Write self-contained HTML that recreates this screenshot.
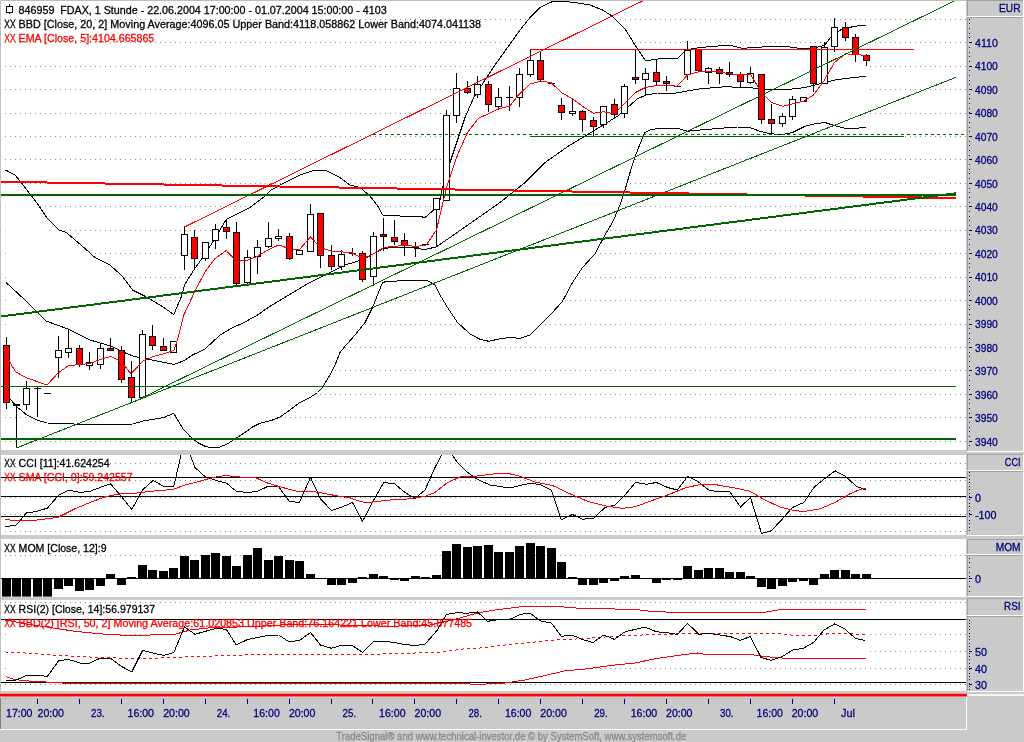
<!DOCTYPE html>
<html lang="de"><head><meta charset="utf-8"><title>846959 FDAX, 1 Stunde</title>
<style>
html,body{margin:0;padding:0;background:#cacaca;}
body{width:1024px;height:742px;overflow:hidden;}
svg{display:block;font-family:"Liberation Sans", sans-serif;}
text{white-space:pre;}
</style></head><body>
<svg width="1024" height="742" viewBox="0 0 1024 742">
<rect x="0.0" y="0.0" width="1024.0" height="742.0" fill="#cacaca" />
<rect x="1.0" y="1.0" width="965.0" height="449.0" fill="#fff" />
<rect x="1.0" y="455.0" width="965.0" height="80.0" fill="#fff" />
<rect x="1.0" y="539.0" width="965.0" height="58.0" fill="#fff" />
<rect x="1.0" y="600.0" width="965.0" height="91.0" fill="#fff" />
<line x1="5" y1="441.5" x2="966" y2="441.5" stroke="#8c8c8c" stroke-width="1" stroke-dasharray="1 4"/>
<line x1="5" y1="417.5" x2="966" y2="417.5" stroke="#8c8c8c" stroke-width="1" stroke-dasharray="1 4"/>
<line x1="5" y1="394.5" x2="966" y2="394.5" stroke="#8c8c8c" stroke-width="1" stroke-dasharray="1 4"/>
<line x1="5" y1="370.5" x2="966" y2="370.5" stroke="#8c8c8c" stroke-width="1" stroke-dasharray="1 4"/>
<line x1="5" y1="347.5" x2="966" y2="347.5" stroke="#8c8c8c" stroke-width="1" stroke-dasharray="1 4"/>
<line x1="5" y1="324.5" x2="966" y2="324.5" stroke="#8c8c8c" stroke-width="1" stroke-dasharray="1 4"/>
<line x1="5" y1="300.5" x2="966" y2="300.5" stroke="#8c8c8c" stroke-width="1" stroke-dasharray="1 4"/>
<line x1="5" y1="277.5" x2="966" y2="277.5" stroke="#8c8c8c" stroke-width="1" stroke-dasharray="1 4"/>
<line x1="5" y1="253.5" x2="966" y2="253.5" stroke="#8c8c8c" stroke-width="1" stroke-dasharray="1 4"/>
<line x1="5" y1="230.5" x2="966" y2="230.5" stroke="#8c8c8c" stroke-width="1" stroke-dasharray="1 4"/>
<line x1="5" y1="206.5" x2="966" y2="206.5" stroke="#8c8c8c" stroke-width="1" stroke-dasharray="1 4"/>
<line x1="5" y1="183.5" x2="966" y2="183.5" stroke="#8c8c8c" stroke-width="1" stroke-dasharray="1 4"/>
<line x1="5" y1="159.5" x2="966" y2="159.5" stroke="#8c8c8c" stroke-width="1" stroke-dasharray="1 4"/>
<line x1="5" y1="136.5" x2="966" y2="136.5" stroke="#8c8c8c" stroke-width="1" stroke-dasharray="1 4"/>
<line x1="5" y1="113.5" x2="966" y2="113.5" stroke="#8c8c8c" stroke-width="1" stroke-dasharray="1 4"/>
<line x1="5" y1="89.5" x2="966" y2="89.5" stroke="#8c8c8c" stroke-width="1" stroke-dasharray="1 4"/>
<line x1="5" y1="66.5" x2="966" y2="66.5" stroke="#8c8c8c" stroke-width="1" stroke-dasharray="1 4"/>
<line x1="5" y1="42.5" x2="966" y2="42.5" stroke="#8c8c8c" stroke-width="1" stroke-dasharray="1 4"/>
<line x1="5" y1="19.5" x2="966" y2="19.5" stroke="#8c8c8c" stroke-width="1" stroke-dasharray="1 4"/>
<polygon points="5.5,170.0 15.0,175.0 20.0,181.0 25.0,187.5 37.5,203.8 47.5,218.8 58.8,230.0 66.3,232.5 82.5,246.3 95.0,257.5 110.0,265.0 122.5,276.3 132.5,290.0 145.0,296.3 160.0,305.0 173.8,314.5 181.0,297.5 185.0,284.0 193.8,270.0 200.0,261.3 212.5,242.5 220.0,230.0 226.3,219.5 240.0,212.5 250.0,207.5 257.0,202.0 265.0,196.3 271.0,190.0 285.0,182.5 300.0,175.0 315.0,170.0 325.0,170.0 340.0,177.5 350.0,185.0 360.0,187.5 370.0,196.0 378.8,207.5 382.5,215.0 400.0,216.0 417.5,216.0 425.0,217.5 433.8,210.0 440.0,200.0 442.5,188.0 445.0,178.0 450.0,162.5 457.5,140.0 465.0,117.5 473.8,97.5 485.0,80.0 495.0,65.0 507.5,47.5 520.0,30.0 530.0,17.5 540.0,7.5 552.5,1.5 562.5,1.3 575.0,2.5 590.0,5.0 602.5,10.0 612.5,16.3 625.0,28.8 635.0,45.0 645.0,60.0 651.0,60.0 660.0,58.8 677.5,58.3 683.8,52.5 687.5,49.5 700.0,47.5 720.0,45.8 732.5,45.8 742.5,48.3 762.5,47.0 785.0,46.3 802.5,48.8 812.5,48.8 825.0,45.0 832.5,35.0 842.5,28.8 855.0,26.3 866.0,25.0 866.0,127.0 857.5,128.3 845.0,128.3 835.0,125.8 825.0,122.5 815.0,123.8 805.0,126.3 792.5,132.5 782.5,134.5 770.0,133.8 760.0,131.3 750.0,127.5 737.5,127.0 720.0,128.3 700.0,130.0 687.5,131.3 677.5,128.3 660.0,128.3 651.0,129.5 645.0,132.5 640.0,144.0 635.0,157.0 630.0,172.5 625.0,190.0 620.0,205.0 612.5,222.5 605.0,235.0 595.0,253.8 582.5,267.5 572.5,282.5 562.5,301.3 552.5,312.5 540.0,325.0 530.0,335.0 520.0,338.3 510.0,337.5 500.0,338.8 488.8,341.3 480.0,339.3 470.0,333.8 457.5,322.5 447.5,307.5 440.0,295.0 435.0,285.0 427.5,280.8 420.0,280.3 387.5,281.3 382.5,282.5 377.5,295.0 372.5,307.5 365.0,322.5 355.0,335.0 345.0,346.3 340.0,352.5 335.0,365.0 330.0,375.0 322.5,387.5 317.5,392.5 310.0,397.5 300.0,402.5 290.0,410.0 280.0,417.0 272.5,420.0 260.0,423.3 252.5,427.0 245.0,432.5 235.0,438.8 227.5,443.8 220.0,447.0 212.5,448.0 205.0,446.3 197.5,442.5 190.0,436.3 183.8,430.0 178.3,421.0 173.8,413.3 164.0,417.4 143.4,421.0 133.0,424.0 110.7,424.6 88.0,425.0 67.6,423.6 47.0,423.0 37.0,420.0 26.6,414.8 16.4,406.5 9.6,398.4 6.0,395.0" fill="#fff" stroke="none"/>
<polyline points="5.5,170.0 15.0,175.0 20.0,181.0 25.0,187.5 37.5,203.8 47.5,218.8 58.8,230.0 66.3,232.5 82.5,246.3 95.0,257.5 110.0,265.0 122.5,276.3 132.5,290.0 145.0,296.3 160.0,305.0 173.8,314.5 181.0,297.5 185.0,284.0 193.8,270.0 200.0,261.3 212.5,242.5 220.0,230.0 226.3,219.5 240.0,212.5 250.0,207.5 257.0,202.0 265.0,196.3 271.0,190.0 285.0,182.5 300.0,175.0 315.0,170.0 325.0,170.0 340.0,177.5 350.0,185.0 360.0,187.5 370.0,196.0 378.8,207.5 382.5,215.0 400.0,216.0 417.5,216.0 425.0,217.5 433.8,210.0 440.0,200.0 442.5,188.0 445.0,178.0 450.0,162.5 457.5,140.0 465.0,117.5 473.8,97.5 485.0,80.0 495.0,65.0 507.5,47.5 520.0,30.0 530.0,17.5 540.0,7.5 552.5,1.5 562.5,1.3 575.0,2.5 590.0,5.0 602.5,10.0 612.5,16.3 625.0,28.8 635.0,45.0 645.0,60.0 651.0,60.0 660.0,58.8 677.5,58.3 683.8,52.5 687.5,49.5 700.0,47.5 720.0,45.8 732.5,45.8 742.5,48.3 762.5,47.0 785.0,46.3 802.5,48.8 812.5,48.8 825.0,45.0 832.5,35.0 842.5,28.8 855.0,26.3 866.0,25.0" fill="none" stroke="#000" stroke-width="1" stroke-linejoin="round" shape-rendering="crispEdges" />
<polyline points="6.0,282.5 25.0,300.0 46.0,321.0 67.5,328.8 90.0,340.0 110.7,346.0 123.0,352.0 133.0,356.0 143.4,358.4 160.0,361.5 174.0,364.5 184.4,360.5 192.5,355.0 205.0,349.0 220.0,335.0 232.0,328.0 245.0,322.0 257.5,315.0 270.0,306.3 282.5,298.8 295.0,291.3 307.5,283.8 320.0,277.5 330.0,272.5 345.0,265.0 357.5,261.3 367.5,257.5 382.5,248.8 395.0,247.0 407.5,247.0 417.0,248.5 425.0,249.5 436.0,247.0 450.0,237.5 475.0,220.0 500.0,202.5 525.0,182.5 545.0,162.5 570.0,145.0 585.0,136.3 595.0,130.0 605.0,123.8 617.5,116.3 627.5,107.5 637.5,98.8 646.0,95.0 657.5,93.0 676.0,93.0 700.0,88.8 725.0,86.8 750.0,87.5 762.5,89.5 787.5,89.5 805.0,87.5 820.0,83.8 835.0,80.0 850.0,78.0 866.0,76.3" fill="none" stroke="#000" stroke-width="1" stroke-linejoin="round" shape-rendering="crispEdges" />
<polyline points="6.0,395.0 9.6,398.4 16.4,406.5 26.6,414.8 37.0,420.0 47.0,423.0 67.6,423.6 88.0,425.0 110.7,424.6 133.0,424.0 143.4,421.0 164.0,417.4 173.8,413.3 178.3,421.0 183.8,430.0 190.0,436.3 197.5,442.5 205.0,446.3 212.5,448.0 220.0,447.0 227.5,443.8 235.0,438.8 245.0,432.5 252.5,427.0 260.0,423.3 272.5,420.0 280.0,417.0 290.0,410.0 300.0,402.5 310.0,397.5 317.5,392.5 322.5,387.5 330.0,375.0 335.0,365.0 340.0,352.5 345.0,346.3 355.0,335.0 365.0,322.5 372.5,307.5 377.5,295.0 382.5,282.5 387.5,281.3 420.0,280.3 427.5,280.8 435.0,285.0 440.0,295.0 447.5,307.5 457.5,322.5 470.0,333.8 480.0,339.3 488.8,341.3 500.0,338.8 510.0,337.5 520.0,338.3 530.0,335.0 540.0,325.0 552.5,312.5 562.5,301.3 572.5,282.5 582.5,267.5 595.0,253.8 605.0,235.0 612.5,222.5 620.0,205.0 625.0,190.0 630.0,172.5 635.0,157.0 640.0,144.0 645.0,132.5 651.0,129.5 660.0,128.3 677.5,128.3 687.5,131.3 700.0,130.0 720.0,128.3 737.5,127.0 750.0,127.5 760.0,131.3 770.0,133.8 782.5,134.5 792.5,132.5 805.0,126.3 815.0,123.8 825.0,122.5 835.0,125.8 845.0,128.3 857.5,128.3 866.0,127.0" fill="none" stroke="#000" stroke-width="1" stroke-linejoin="round" shape-rendering="crispEdges" />
<g shape-rendering="crispEdges">
<line x1="6.5" y1="337.0" x2="6.5" y2="409.0" stroke="#000" stroke-width="1" />
<rect x="3.5" y="345.5" width="6" height="57.0" fill="#ff0000" stroke="#000" stroke-width="1"/>
<line x1="16.5" y1="404.0" x2="16.5" y2="448.0" stroke="#000" stroke-width="1" />
<line x1="13.0" y1="404.5" x2="20.0" y2="404.5" stroke="#000" stroke-width="2" />
<line x1="26.5" y1="381.0" x2="26.5" y2="410.0" stroke="#000" stroke-width="1" />
<rect x="23.5" y="388.5" width="6" height="16.0" fill="#fff" stroke="#000" stroke-width="1"/>
<line x1="37.5" y1="387.0" x2="37.5" y2="417.4" stroke="#000" stroke-width="1" />
<line x1="34.0" y1="388.5" x2="41.0" y2="388.5" stroke="#000" stroke-width="1" />
<line x1="44.0" y1="393.5" x2="51.0" y2="393.5" stroke="#000" stroke-width="1" />
<line x1="58.5" y1="336.0" x2="58.5" y2="378.0" stroke="#000" stroke-width="1" />
<rect x="55.5" y="350.5" width="6" height="7.0" fill="#fff" stroke="#000" stroke-width="1"/>
<line x1="68.5" y1="330.0" x2="68.5" y2="358.0" stroke="#000" stroke-width="1" />
<rect x="65.5" y="348.5" width="6" height="4.0" fill="#fff" stroke="#000" stroke-width="1"/>
<line x1="79.5" y1="345.0" x2="79.5" y2="367.0" stroke="#000" stroke-width="1" />
<rect x="76.5" y="348.5" width="6" height="16.0" fill="#ff0000" stroke="#000" stroke-width="1"/>
<line x1="89.5" y1="352.0" x2="89.5" y2="370.0" stroke="#000" stroke-width="1" />
<rect x="86.5" y="362.5" width="6" height="3.0" fill="#fff" stroke="#000" stroke-width="1"/>
<line x1="100.5" y1="344.0" x2="100.5" y2="369.0" stroke="#000" stroke-width="1" />
<rect x="97.5" y="348.5" width="6" height="16.0" fill="#fff" stroke="#000" stroke-width="1"/>
<line x1="110.5" y1="338.0" x2="110.5" y2="350.0" stroke="#000" stroke-width="1" />
<rect x="107.5" y="348.5" width="6" height="2.0" fill="#ff0000" stroke="#000" stroke-width="1"/>
<line x1="121.5" y1="346.0" x2="121.5" y2="383.0" stroke="#000" stroke-width="1" />
<rect x="118.5" y="350.5" width="6" height="29.0" fill="#ff0000" stroke="#000" stroke-width="1"/>
<line x1="131.5" y1="361.0" x2="131.5" y2="402.0" stroke="#000" stroke-width="1" />
<rect x="128.5" y="377.5" width="6" height="20.0" fill="#ff0000" stroke="#000" stroke-width="1"/>
<line x1="142.5" y1="330.0" x2="142.5" y2="397.0" stroke="#000" stroke-width="1" />
<rect x="139.5" y="334.5" width="6" height="63.0" fill="#fff" stroke="#000" stroke-width="1"/>
<line x1="152.5" y1="325.0" x2="152.5" y2="350.0" stroke="#000" stroke-width="1" />
<rect x="149.5" y="336.5" width="6" height="9.0" fill="#ff0000" stroke="#000" stroke-width="1"/>
<line x1="163.5" y1="338.0" x2="163.5" y2="351.0" stroke="#000" stroke-width="1" />
<rect x="160.5" y="346.5" width="6" height="4.0" fill="#ff0000" stroke="#000" stroke-width="1"/>
<line x1="173.5" y1="342.0" x2="173.5" y2="352.0" stroke="#000" stroke-width="1" />
<rect x="170.5" y="341.5" width="6" height="11.0" fill="#fff" stroke="#000" stroke-width="1"/>
<line x1="184.5" y1="227.0" x2="184.5" y2="270.0" stroke="#000" stroke-width="1" />
<rect x="181.5" y="234.5" width="6" height="21.0" fill="#fff" stroke="#000" stroke-width="1"/>
<line x1="194.5" y1="230.0" x2="194.5" y2="268.0" stroke="#000" stroke-width="1" />
<rect x="191.5" y="237.5" width="6" height="21.0" fill="#ff0000" stroke="#000" stroke-width="1"/>
<line x1="205.5" y1="242.0" x2="205.5" y2="261.0" stroke="#000" stroke-width="1" />
<rect x="202.5" y="242.5" width="6" height="16.0" fill="#fff" stroke="#000" stroke-width="1"/>
<line x1="215.5" y1="224.0" x2="215.5" y2="249.0" stroke="#000" stroke-width="1" />
<rect x="212.5" y="229.5" width="6" height="11.0" fill="#fff" stroke="#000" stroke-width="1"/>
<line x1="226.5" y1="220.0" x2="226.5" y2="239.0" stroke="#000" stroke-width="1" />
<rect x="223.5" y="227.5" width="6" height="4.0" fill="#ff0000" stroke="#000" stroke-width="1"/>
<line x1="236.5" y1="222.0" x2="236.5" y2="286.0" stroke="#000" stroke-width="1" />
<rect x="233.5" y="232.5" width="6" height="51.0" fill="#ff0000" stroke="#000" stroke-width="1"/>
<line x1="247.5" y1="250.0" x2="247.5" y2="284.0" stroke="#000" stroke-width="1" />
<rect x="244.5" y="257.5" width="6" height="25.0" fill="#fff" stroke="#000" stroke-width="1"/>
<line x1="257.5" y1="240.0" x2="257.5" y2="274.0" stroke="#000" stroke-width="1" />
<rect x="254.5" y="247.5" width="6" height="9.0" fill="#fff" stroke="#000" stroke-width="1"/>
<line x1="268.5" y1="222.0" x2="268.5" y2="248.0" stroke="#000" stroke-width="1" />
<rect x="265.5" y="238.5" width="6" height="8.0" fill="#fff" stroke="#000" stroke-width="1"/>
<line x1="278.5" y1="229.0" x2="278.5" y2="241.0" stroke="#000" stroke-width="1" />
<rect x="275.5" y="236.5" width="6" height="2.0" fill="#fff" stroke="#000" stroke-width="1"/>
<line x1="289.5" y1="233.0" x2="289.5" y2="260.0" stroke="#000" stroke-width="1" />
<rect x="286.5" y="236.5" width="6" height="22.0" fill="#ff0000" stroke="#000" stroke-width="1"/>
<line x1="299.5" y1="250.0" x2="299.5" y2="254.0" stroke="#000" stroke-width="1" />
<rect x="296.5" y="250.5" width="6" height="4.0" fill="#fff" stroke="#000" stroke-width="1"/>
<line x1="310.5" y1="204.0" x2="310.5" y2="251.0" stroke="#000" stroke-width="1" />
<rect x="307.5" y="214.5" width="6" height="37.0" fill="#fff" stroke="#000" stroke-width="1"/>
<line x1="320.5" y1="213.0" x2="320.5" y2="268.0" stroke="#000" stroke-width="1" />
<rect x="317.5" y="213.5" width="6" height="42.0" fill="#ff0000" stroke="#000" stroke-width="1"/>
<line x1="331.5" y1="245.0" x2="331.5" y2="270.0" stroke="#000" stroke-width="1" />
<rect x="328.5" y="255.5" width="6" height="11.0" fill="#ff0000" stroke="#000" stroke-width="1"/>
<line x1="341.5" y1="250.0" x2="341.5" y2="270.0" stroke="#000" stroke-width="1" />
<rect x="338.5" y="254.5" width="6" height="12.0" fill="#fff" stroke="#000" stroke-width="1"/>
<line x1="352.5" y1="248.0" x2="352.5" y2="255.5" stroke="#000" stroke-width="1" />
<line x1="349.0" y1="253.5" x2="356.0" y2="253.5" stroke="#000" stroke-width="1" />
<line x1="362.5" y1="251.0" x2="362.5" y2="282.0" stroke="#000" stroke-width="1" />
<rect x="359.5" y="253.5" width="6" height="26.0" fill="#ff0000" stroke="#000" stroke-width="1"/>
<line x1="373.5" y1="232.0" x2="373.5" y2="286.0" stroke="#000" stroke-width="1" />
<rect x="370.5" y="236.5" width="6" height="40.0" fill="#fff" stroke="#000" stroke-width="1"/>
<line x1="383.5" y1="218.0" x2="383.5" y2="251.0" stroke="#000" stroke-width="1" />
<rect x="380.5" y="234.5" width="6" height="2.0" fill="#ff0000" stroke="#000" stroke-width="1"/>
<line x1="394.5" y1="220.0" x2="394.5" y2="245.0" stroke="#000" stroke-width="1" />
<rect x="391.5" y="237.5" width="6" height="4.0" fill="#ff0000" stroke="#000" stroke-width="1"/>
<line x1="404.5" y1="233.0" x2="404.5" y2="256.0" stroke="#000" stroke-width="1" />
<rect x="401.5" y="240.5" width="6" height="5.0" fill="#ff0000" stroke="#000" stroke-width="1"/>
<line x1="415.5" y1="241.5" x2="415.5" y2="257.2" stroke="#000" stroke-width="1" />
<line x1="412.0" y1="247.5" x2="419.0" y2="247.5" stroke="#000" stroke-width="1" />
<line x1="422.0" y1="244.5" x2="429.0" y2="244.5" stroke="#000" stroke-width="1" />
<line x1="436.5" y1="198.0" x2="436.5" y2="246.0" stroke="#000" stroke-width="1" />
<rect x="433.5" y="198.5" width="6" height="11.0" fill="#fff" stroke="#000" stroke-width="1"/>
<line x1="446.5" y1="110.0" x2="446.5" y2="201.0" stroke="#000" stroke-width="1" />
<rect x="443.5" y="115.5" width="6" height="85.0" fill="#fff" stroke="#000" stroke-width="1"/>
<line x1="456.5" y1="73.0" x2="456.5" y2="123.0" stroke="#000" stroke-width="1" />
<rect x="453.5" y="88.5" width="6" height="27.0" fill="#fff" stroke="#000" stroke-width="1"/>
<line x1="467.5" y1="81.0" x2="467.5" y2="94.0" stroke="#000" stroke-width="1" />
<rect x="464.5" y="88.5" width="6" height="4.0" fill="#ff0000" stroke="#000" stroke-width="1"/>
<line x1="477.5" y1="76.0" x2="477.5" y2="98.0" stroke="#000" stroke-width="1" />
<rect x="474.5" y="84.5" width="6" height="10.0" fill="#fff" stroke="#000" stroke-width="1"/>
<line x1="488.5" y1="81.0" x2="488.5" y2="112.0" stroke="#000" stroke-width="1" />
<rect x="485.5" y="84.5" width="6" height="20.0" fill="#ff0000" stroke="#000" stroke-width="1"/>
<line x1="498.5" y1="88.0" x2="498.5" y2="110.0" stroke="#000" stroke-width="1" />
<rect x="495.5" y="97.5" width="6" height="9.0" fill="#fff" stroke="#000" stroke-width="1"/>
<line x1="509.5" y1="86.3" x2="509.5" y2="110.8" stroke="#000" stroke-width="1" />
<line x1="506.0" y1="97.5" x2="513.0" y2="97.5" stroke="#000" stroke-width="1" />
<line x1="519.5" y1="68.0" x2="519.5" y2="107.0" stroke="#000" stroke-width="1" />
<rect x="516.5" y="74.5" width="6" height="23.0" fill="#fff" stroke="#000" stroke-width="1"/>
<line x1="530.5" y1="49.0" x2="530.5" y2="77.0" stroke="#000" stroke-width="1" />
<rect x="527.5" y="60.5" width="6" height="14.0" fill="#fff" stroke="#000" stroke-width="1"/>
<line x1="540.5" y1="51.0" x2="540.5" y2="81.0" stroke="#000" stroke-width="1" />
<rect x="537.5" y="60.5" width="6" height="19.0" fill="#ff0000" stroke="#000" stroke-width="1"/>
<line x1="548.0" y1="83.5" x2="555.0" y2="83.5" stroke="#000" stroke-width="1" />
<line x1="561.5" y1="98.0" x2="561.5" y2="120.0" stroke="#000" stroke-width="1" />
<rect x="558.5" y="105.5" width="6" height="7.0" fill="#ff0000" stroke="#000" stroke-width="1"/>
<line x1="572.5" y1="98.0" x2="572.5" y2="116.0" stroke="#000" stroke-width="1" />
<rect x="569.5" y="111.5" width="6" height="2.0" fill="#fff" stroke="#000" stroke-width="1"/>
<line x1="582.5" y1="110.0" x2="582.5" y2="132.0" stroke="#000" stroke-width="1" />
<rect x="579.5" y="111.5" width="6" height="8.0" fill="#ff0000" stroke="#000" stroke-width="1"/>
<line x1="593.5" y1="117.0" x2="593.5" y2="136.0" stroke="#000" stroke-width="1" />
<rect x="590.5" y="120.5" width="6" height="6.0" fill="#ff0000" stroke="#000" stroke-width="1"/>
<line x1="603.5" y1="106.0" x2="603.5" y2="128.0" stroke="#000" stroke-width="1" />
<rect x="600.5" y="106.5" width="6" height="18.0" fill="#fff" stroke="#000" stroke-width="1"/>
<line x1="614.5" y1="99.0" x2="614.5" y2="118.0" stroke="#000" stroke-width="1" />
<rect x="611.5" y="104.5" width="6" height="10.0" fill="#ff0000" stroke="#000" stroke-width="1"/>
<line x1="624.5" y1="84.0" x2="624.5" y2="118.0" stroke="#000" stroke-width="1" />
<rect x="621.5" y="86.5" width="6" height="27.0" fill="#fff" stroke="#000" stroke-width="1"/>
<line x1="635.5" y1="49.0" x2="635.5" y2="84.0" stroke="#000" stroke-width="1" />
<rect x="632.5" y="77.5" width="6" height="2.0" fill="#ff0000" stroke="#000" stroke-width="1"/>
<line x1="645.5" y1="68.0" x2="645.5" y2="95.0" stroke="#000" stroke-width="1" />
<rect x="642.5" y="73.5" width="6" height="6.0" fill="#fff" stroke="#000" stroke-width="1"/>
<line x1="656.5" y1="59.0" x2="656.5" y2="86.0" stroke="#000" stroke-width="1" />
<rect x="653.5" y="72.5" width="6" height="9.0" fill="#ff0000" stroke="#000" stroke-width="1"/>
<line x1="666.5" y1="76.0" x2="666.5" y2="91.0" stroke="#000" stroke-width="1" />
<rect x="663.5" y="81.5" width="6" height="2.0" fill="#ff0000" stroke="#000" stroke-width="1"/>
<line x1="674.0" y1="86.5" x2="681.0" y2="86.5" stroke="#000" stroke-width="1" />
<line x1="687.5" y1="41.0" x2="687.5" y2="80.0" stroke="#000" stroke-width="1" />
<rect x="684.5" y="50.5" width="6" height="24.0" fill="#fff" stroke="#000" stroke-width="1"/>
<line x1="698.5" y1="49.0" x2="698.5" y2="72.0" stroke="#000" stroke-width="1" />
<rect x="695.5" y="49.5" width="6" height="21.0" fill="#ff0000" stroke="#000" stroke-width="1"/>
<line x1="708.5" y1="67.0" x2="708.5" y2="84.0" stroke="#000" stroke-width="1" />
<rect x="705.5" y="68.5" width="6" height="4.0" fill="#fff" stroke="#000" stroke-width="1"/>
<line x1="719.5" y1="67.0" x2="719.5" y2="84.0" stroke="#000" stroke-width="1" />
<rect x="716.5" y="69.5" width="6" height="4.0" fill="#ff0000" stroke="#000" stroke-width="1"/>
<line x1="729.5" y1="62.0" x2="729.5" y2="77.0" stroke="#000" stroke-width="1" />
<rect x="726.5" y="72.5" width="6" height="2.0" fill="#ff0000" stroke="#000" stroke-width="1"/>
<line x1="740.5" y1="72.0" x2="740.5" y2="88.0" stroke="#000" stroke-width="1" />
<rect x="737.5" y="74.5" width="6" height="7.0" fill="#ff0000" stroke="#000" stroke-width="1"/>
<line x1="750.5" y1="67.0" x2="750.5" y2="84.0" stroke="#000" stroke-width="1" />
<rect x="747.5" y="73.5" width="6" height="9.0" fill="#fff" stroke="#000" stroke-width="1"/>
<line x1="761.5" y1="74.0" x2="761.5" y2="124.0" stroke="#000" stroke-width="1" />
<rect x="758.5" y="74.5" width="6" height="45.0" fill="#ff0000" stroke="#000" stroke-width="1"/>
<line x1="771.5" y1="104.0" x2="771.5" y2="134.0" stroke="#000" stroke-width="1" />
<rect x="768.5" y="119.5" width="6" height="4.0" fill="#ff0000" stroke="#000" stroke-width="1"/>
<line x1="782.5" y1="113.0" x2="782.5" y2="127.0" stroke="#000" stroke-width="1" />
<rect x="779.5" y="116.5" width="6" height="7.0" fill="#fff" stroke="#000" stroke-width="1"/>
<line x1="792.5" y1="96.0" x2="792.5" y2="120.0" stroke="#000" stroke-width="1" />
<rect x="789.5" y="99.5" width="6" height="17.0" fill="#fff" stroke="#000" stroke-width="1"/>
<line x1="803.5" y1="98.0" x2="803.5" y2="102.0" stroke="#000" stroke-width="1" />
<rect x="800.5" y="97.5" width="6" height="4.0" fill="#fff" stroke="#000" stroke-width="1"/>
<line x1="813.5" y1="46.0" x2="813.5" y2="92.0" stroke="#000" stroke-width="1" />
<rect x="810.5" y="46.5" width="6" height="37.0" fill="#ff0000" stroke="#000" stroke-width="1"/>
<line x1="824.5" y1="42.0" x2="824.5" y2="84.0" stroke="#000" stroke-width="1" />
<rect x="821.5" y="47.5" width="6" height="36.0" fill="#fff" stroke="#000" stroke-width="1"/>
<line x1="834.5" y1="18.0" x2="834.5" y2="52.0" stroke="#000" stroke-width="1" />
<rect x="831.5" y="27.5" width="6" height="19.0" fill="#fff" stroke="#000" stroke-width="1"/>
<line x1="845.5" y1="22.0" x2="845.5" y2="41.0" stroke="#000" stroke-width="1" />
<rect x="842.5" y="27.5" width="6" height="10.0" fill="#ff0000" stroke="#000" stroke-width="1"/>
<line x1="855.5" y1="34.0" x2="855.5" y2="62.0" stroke="#000" stroke-width="1" />
<rect x="852.5" y="37.5" width="6" height="17.0" fill="#ff0000" stroke="#000" stroke-width="1"/>
<line x1="866.5" y1="54.0" x2="866.5" y2="66.0" stroke="#000" stroke-width="1" />
<rect x="863.5" y="55.5" width="6" height="5.0" fill="#ff0000" stroke="#000" stroke-width="1"/>
</g>
<polyline points="6.5,352.0 9.6,361.5 15.4,371.7 26.6,377.9 47.0,385.0 58.4,372.7 68.6,365.6 80.0,364.5 90.0,363.5 100.4,359.4 110.7,356.4 121.0,361.5 131.0,373.8 143.4,360.5 153.7,356.4 164.0,353.7 174.0,350.2 178.3,337.0 183.8,315.0 195.0,291.0 205.0,272.0 215.0,258.5 226.3,250.5 236.3,261.3 247.5,260.3 257.5,256.3 268.8,249.5 278.8,245.0 289.5,248.8 299.5,249.5 310.5,237.0 320.5,247.5 331.5,251.3 341.5,251.8 352.5,253.0 362.5,258.8 373.5,253.8 383.5,247.5 394.5,246.3 404.5,245.5 416.0,246.3 426.0,245.3 436.5,230.0 446.5,187.5 457.5,155.0 467.5,132.5 478.5,118.3 488.5,113.8 498.5,108.8 509.5,106.3 519.5,93.8 530.5,83.8 540.5,81.3 551.0,82.5 561.5,92.5 572.5,98.8 582.5,106.3 593.5,113.3 603.5,111.8 614.5,113.8 624.5,103.8 635.5,92.5 645.5,87.5 656.5,85.5 666.5,85.0 677.0,86.3 687.5,75.0 698.5,71.8 708.5,71.3 719.5,72.0 729.5,73.8 740.5,75.0 750.5,74.5 761.5,92.5 771.5,102.5 782.5,106.3 792.5,103.8 803.5,101.3 813.5,95.0 824.5,80.0 834.5,62.5 845.5,53.8 855.5,54.5 866.5,55.5" fill="none" stroke="#ff0000" stroke-width="1" stroke-linejoin="round" shape-rendering="crispEdges" />
<g shape-rendering="crispEdges">
<line x1="0.0" y1="386.5" x2="956.0" y2="386.5" stroke="#006400" stroke-width="1" />
<line x1="0.0" y1="439.0" x2="956.0" y2="439.0" stroke="#006400" stroke-width="2" />
<line x1="373.0" y1="134.5" x2="965.0" y2="134.5" stroke="#006400" stroke-width="1" stroke-dasharray="3 3"/>
<line x1="530.0" y1="136.5" x2="904.0" y2="136.5" stroke="#006400" stroke-width="1" />
<line x1="530.0" y1="49.5" x2="913.5" y2="49.5" stroke="#ff0000" stroke-width="1" />
</g>
<line x1="16.4" y1="448.0" x2="956.0" y2="77.3" stroke="#006400" stroke-width="1" shape-rendering="crispEdges"/>
<line x1="142.6" y1="397.5" x2="956.0" y2="0.2" stroke="#006400" stroke-width="1" shape-rendering="crispEdges"/>
<line x1="184.5" y1="227.0" x2="644.5" y2="0.0" stroke="#ff0000" stroke-width="1" shape-rendering="crispEdges"/>
<g shape-rendering="crispEdges">
<rect x="0.0" y="181.0" width="47.0" height="2.0" fill="#ff0000" />
<rect x="47.0" y="182.0" width="58.0" height="2.0" fill="#ff0000" />
<rect x="105.0" y="183.0" width="59.0" height="2.0" fill="#ff0000" />
<rect x="164.0" y="184.0" width="58.0" height="2.0" fill="#ff0000" />
<rect x="222.0" y="185.0" width="58.0" height="2.0" fill="#ff0000" />
<rect x="280.0" y="186.0" width="59.0" height="2.0" fill="#ff0000" />
<rect x="339.0" y="187.0" width="58.0" height="2.0" fill="#ff0000" />
<rect x="397.0" y="188.0" width="58.0" height="2.0" fill="#ff0000" />
<rect x="455.0" y="189.0" width="59.0" height="2.0" fill="#ff0000" />
<rect x="514.0" y="190.0" width="58.0" height="2.0" fill="#ff0000" />
<rect x="572.0" y="191.0" width="58.0" height="2.0" fill="#ff0000" />
<rect x="630.0" y="192.0" width="59.0" height="2.0" fill="#ff0000" />
<rect x="689.0" y="193.0" width="58.0" height="2.0" fill="#ff0000" />
<rect x="747.0" y="194.0" width="58.0" height="2.0" fill="#ff0000" />
<rect x="805.0" y="195.0" width="58.0" height="2.0" fill="#ff0000" />
<rect x="863.0" y="196.0" width="59.0" height="2.0" fill="#ff0000" />
<rect x="922.0" y="197.0" width="34.0" height="2.0" fill="#ff0000" />
</g>
<g shape-rendering="crispEdges">
<line x1="0.0" y1="195.0" x2="956.0" y2="195.0" stroke="#006400" stroke-width="2" />
</g>
<g shape-rendering="crispEdges">
<rect x="0.0" y="316.0" width="1.0" height="2.0" fill="#006400" />
<rect x="1.0" y="315.0" width="7.0" height="2.0" fill="#006400" />
<rect x="8.0" y="314.0" width="8.0" height="2.0" fill="#006400" />
<rect x="16.0" y="313.0" width="8.0" height="2.0" fill="#006400" />
<rect x="24.0" y="312.0" width="8.0" height="2.0" fill="#006400" />
<rect x="32.0" y="311.0" width="7.0" height="2.0" fill="#006400" />
<rect x="39.0" y="310.0" width="8.0" height="2.0" fill="#006400" />
<rect x="47.0" y="309.0" width="8.0" height="2.0" fill="#006400" />
<rect x="55.0" y="308.0" width="8.0" height="2.0" fill="#006400" />
<rect x="63.0" y="307.0" width="7.0" height="2.0" fill="#006400" />
<rect x="70.0" y="306.0" width="8.0" height="2.0" fill="#006400" />
<rect x="78.0" y="305.0" width="8.0" height="2.0" fill="#006400" />
<rect x="86.0" y="304.0" width="8.0" height="2.0" fill="#006400" />
<rect x="94.0" y="303.0" width="7.0" height="2.0" fill="#006400" />
<rect x="101.0" y="302.0" width="8.0" height="2.0" fill="#006400" />
<rect x="109.0" y="301.0" width="8.0" height="2.0" fill="#006400" />
<rect x="117.0" y="300.0" width="8.0" height="2.0" fill="#006400" />
<rect x="125.0" y="299.0" width="7.0" height="2.0" fill="#006400" />
<rect x="132.0" y="298.0" width="8.0" height="2.0" fill="#006400" />
<rect x="140.0" y="297.0" width="8.0" height="2.0" fill="#006400" />
<rect x="148.0" y="296.0" width="8.0" height="2.0" fill="#006400" />
<rect x="156.0" y="295.0" width="7.0" height="2.0" fill="#006400" />
<rect x="163.0" y="294.0" width="8.0" height="2.0" fill="#006400" />
<rect x="171.0" y="293.0" width="8.0" height="2.0" fill="#006400" />
<rect x="179.0" y="292.0" width="8.0" height="2.0" fill="#006400" />
<rect x="187.0" y="291.0" width="7.0" height="2.0" fill="#006400" />
<rect x="194.0" y="290.0" width="8.0" height="2.0" fill="#006400" />
<rect x="202.0" y="289.0" width="8.0" height="2.0" fill="#006400" />
<rect x="210.0" y="288.0" width="8.0" height="2.0" fill="#006400" />
<rect x="218.0" y="287.0" width="7.0" height="2.0" fill="#006400" />
<rect x="225.0" y="286.0" width="8.0" height="2.0" fill="#006400" />
<rect x="233.0" y="285.0" width="8.0" height="2.0" fill="#006400" />
<rect x="241.0" y="284.0" width="8.0" height="2.0" fill="#006400" />
<rect x="249.0" y="283.0" width="7.0" height="2.0" fill="#006400" />
<rect x="256.0" y="282.0" width="8.0" height="2.0" fill="#006400" />
<rect x="264.0" y="281.0" width="8.0" height="2.0" fill="#006400" />
<rect x="272.0" y="280.0" width="8.0" height="2.0" fill="#006400" />
<rect x="280.0" y="279.0" width="7.0" height="2.0" fill="#006400" />
<rect x="287.0" y="278.0" width="8.0" height="2.0" fill="#006400" />
<rect x="295.0" y="277.0" width="8.0" height="2.0" fill="#006400" />
<rect x="303.0" y="276.0" width="8.0" height="2.0" fill="#006400" />
<rect x="311.0" y="275.0" width="7.0" height="2.0" fill="#006400" />
<rect x="318.0" y="274.0" width="8.0" height="2.0" fill="#006400" />
<rect x="326.0" y="273.0" width="8.0" height="2.0" fill="#006400" />
<rect x="334.0" y="272.0" width="8.0" height="2.0" fill="#006400" />
<rect x="342.0" y="271.0" width="7.0" height="2.0" fill="#006400" />
<rect x="349.0" y="270.0" width="8.0" height="2.0" fill="#006400" />
<rect x="357.0" y="269.0" width="8.0" height="2.0" fill="#006400" />
<rect x="365.0" y="268.0" width="8.0" height="2.0" fill="#006400" />
<rect x="373.0" y="267.0" width="7.0" height="2.0" fill="#006400" />
<rect x="380.0" y="266.0" width="8.0" height="2.0" fill="#006400" />
<rect x="388.0" y="265.0" width="8.0" height="2.0" fill="#006400" />
<rect x="396.0" y="264.0" width="8.0" height="2.0" fill="#006400" />
<rect x="404.0" y="263.0" width="7.0" height="2.0" fill="#006400" />
<rect x="411.0" y="262.0" width="8.0" height="2.0" fill="#006400" />
<rect x="419.0" y="261.0" width="8.0" height="2.0" fill="#006400" />
<rect x="427.0" y="260.0" width="8.0" height="2.0" fill="#006400" />
<rect x="435.0" y="259.0" width="7.0" height="2.0" fill="#006400" />
<rect x="442.0" y="258.0" width="8.0" height="2.0" fill="#006400" />
<rect x="450.0" y="257.0" width="8.0" height="2.0" fill="#006400" />
<rect x="458.0" y="256.0" width="8.0" height="2.0" fill="#006400" />
<rect x="466.0" y="255.0" width="7.0" height="2.0" fill="#006400" />
<rect x="473.0" y="254.0" width="8.0" height="2.0" fill="#006400" />
<rect x="481.0" y="253.0" width="8.0" height="2.0" fill="#006400" />
<rect x="489.0" y="252.0" width="8.0" height="2.0" fill="#006400" />
<rect x="497.0" y="251.0" width="7.0" height="2.0" fill="#006400" />
<rect x="504.0" y="250.0" width="8.0" height="2.0" fill="#006400" />
<rect x="512.0" y="249.0" width="8.0" height="2.0" fill="#006400" />
<rect x="520.0" y="248.0" width="8.0" height="2.0" fill="#006400" />
<rect x="528.0" y="247.0" width="7.0" height="2.0" fill="#006400" />
<rect x="535.0" y="246.0" width="8.0" height="2.0" fill="#006400" />
<rect x="543.0" y="245.0" width="8.0" height="2.0" fill="#006400" />
<rect x="551.0" y="244.0" width="8.0" height="2.0" fill="#006400" />
<rect x="559.0" y="243.0" width="7.0" height="2.0" fill="#006400" />
<rect x="566.0" y="242.0" width="8.0" height="2.0" fill="#006400" />
<rect x="574.0" y="241.0" width="8.0" height="2.0" fill="#006400" />
<rect x="582.0" y="240.0" width="8.0" height="2.0" fill="#006400" />
<rect x="590.0" y="239.0" width="7.0" height="2.0" fill="#006400" />
<rect x="597.0" y="238.0" width="8.0" height="2.0" fill="#006400" />
<rect x="605.0" y="237.0" width="8.0" height="2.0" fill="#006400" />
<rect x="613.0" y="236.0" width="8.0" height="2.0" fill="#006400" />
<rect x="621.0" y="235.0" width="7.0" height="2.0" fill="#006400" />
<rect x="628.0" y="234.0" width="8.0" height="2.0" fill="#006400" />
<rect x="636.0" y="233.0" width="8.0" height="2.0" fill="#006400" />
<rect x="644.0" y="232.0" width="8.0" height="2.0" fill="#006400" />
<rect x="652.0" y="231.0" width="7.0" height="2.0" fill="#006400" />
<rect x="659.0" y="230.0" width="8.0" height="2.0" fill="#006400" />
<rect x="667.0" y="229.0" width="8.0" height="2.0" fill="#006400" />
<rect x="675.0" y="228.0" width="8.0" height="2.0" fill="#006400" />
<rect x="683.0" y="227.0" width="7.0" height="2.0" fill="#006400" />
<rect x="690.0" y="226.0" width="8.0" height="2.0" fill="#006400" />
<rect x="698.0" y="225.0" width="8.0" height="2.0" fill="#006400" />
<rect x="706.0" y="224.0" width="8.0" height="2.0" fill="#006400" />
<rect x="714.0" y="223.0" width="7.0" height="2.0" fill="#006400" />
<rect x="721.0" y="222.0" width="8.0" height="2.0" fill="#006400" />
<rect x="729.0" y="221.0" width="8.0" height="2.0" fill="#006400" />
<rect x="737.0" y="220.0" width="8.0" height="2.0" fill="#006400" />
<rect x="745.0" y="219.0" width="7.0" height="2.0" fill="#006400" />
<rect x="752.0" y="218.0" width="8.0" height="2.0" fill="#006400" />
<rect x="760.0" y="217.0" width="8.0" height="2.0" fill="#006400" />
<rect x="768.0" y="216.0" width="8.0" height="2.0" fill="#006400" />
<rect x="776.0" y="215.0" width="7.0" height="2.0" fill="#006400" />
<rect x="783.0" y="214.0" width="8.0" height="2.0" fill="#006400" />
<rect x="791.0" y="213.0" width="8.0" height="2.0" fill="#006400" />
<rect x="799.0" y="212.0" width="8.0" height="2.0" fill="#006400" />
<rect x="807.0" y="211.0" width="7.0" height="2.0" fill="#006400" />
<rect x="814.0" y="210.0" width="8.0" height="2.0" fill="#006400" />
<rect x="822.0" y="209.0" width="8.0" height="2.0" fill="#006400" />
<rect x="830.0" y="208.0" width="8.0" height="2.0" fill="#006400" />
<rect x="838.0" y="207.0" width="7.0" height="2.0" fill="#006400" />
<rect x="845.0" y="206.0" width="8.0" height="2.0" fill="#006400" />
<rect x="853.0" y="205.0" width="8.0" height="2.0" fill="#006400" />
<rect x="861.0" y="204.0" width="8.0" height="2.0" fill="#006400" />
<rect x="869.0" y="203.0" width="7.0" height="2.0" fill="#006400" />
<rect x="876.0" y="202.0" width="8.0" height="2.0" fill="#006400" />
<rect x="884.0" y="201.0" width="8.0" height="2.0" fill="#006400" />
<rect x="892.0" y="200.0" width="8.0" height="2.0" fill="#006400" />
<rect x="900.0" y="199.0" width="7.0" height="2.0" fill="#006400" />
<rect x="907.0" y="198.0" width="8.0" height="2.0" fill="#006400" />
<rect x="915.0" y="197.0" width="8.0" height="2.0" fill="#006400" />
<rect x="923.0" y="196.0" width="8.0" height="2.0" fill="#006400" />
<rect x="931.0" y="195.0" width="7.0" height="2.0" fill="#006400" />
<rect x="938.0" y="194.0" width="8.0" height="2.0" fill="#006400" />
<rect x="946.0" y="193.0" width="8.0" height="2.0" fill="#006400" />
<rect x="954.0" y="192.0" width="2.0" height="2.0" fill="#006400" />
</g>
<line x1="5" y1="463.5" x2="966" y2="463.5" stroke="#8c8c8c" stroke-width="1" stroke-dasharray="1 4"/>
<line x1="5" y1="480.5" x2="966" y2="480.5" stroke="#8c8c8c" stroke-width="1" stroke-dasharray="1 4"/>
<line x1="5" y1="497.5" x2="966" y2="497.5" stroke="#8c8c8c" stroke-width="1" stroke-dasharray="1 4"/>
<line x1="5" y1="514.5" x2="966" y2="514.5" stroke="#8c8c8c" stroke-width="1" stroke-dasharray="1 4"/>
<line x1="5" y1="531.5" x2="966" y2="531.5" stroke="#8c8c8c" stroke-width="1" stroke-dasharray="1 4"/>
<g shape-rendering="crispEdges">
<line x1="1.0" y1="477.5" x2="966.0" y2="477.5" stroke="#000" stroke-width="1" />
<line x1="1.0" y1="496.5" x2="966.0" y2="496.5" stroke="#000" stroke-width="1" />
<line x1="1.0" y1="516.5" x2="966.0" y2="516.5" stroke="#000" stroke-width="1" />
</g>
<clipPath id="cci"><rect x="0" y="455" width="966" height="80"/></clipPath>
<g clip-path="url(#cci)">
<polyline points="5.5,526.8 16.3,525.0 26.3,513.0 37.5,511.3 47.5,508.0 58.8,495.0 68.8,490.0 80.0,492.5 90.0,491.3 100.0,487.5 110.5,483.8 121.3,496.3 131.8,509.5 142.5,490.0 153.0,480.5 163.8,486.3 173.8,486.3 184.5,440.0 195.0,467.5 205.5,477.0 216.3,480.5 226.3,483.0 236.3,491.3 247.5,492.5 257.5,491.3 268.0,486.3 278.8,487.0 289.3,501.3 299.3,502.5 310.5,477.5 320.5,498.8 331.5,510.5 342.0,507.0 352.5,502.5 362.5,521.3 373.8,500.0 383.8,482.5 394.5,483.8 405.0,492.5 415.0,498.3 425.0,490.0 435.0,467.5 446.5,446.0 457.0,462.0 466.3,471.3 476.3,478.8 490.0,485.0 500.0,486.5 510.0,488.0 520.0,485.5 530.0,483.3 540.0,484.5 551.3,490.0 561.3,520.0 572.5,514.5 582.5,519.3 593.8,518.0 605.0,507.5 615.0,505.0 625.0,495.0 635.5,482.5 646.3,484.3 656.3,482.5 667.5,487.5 677.5,490.0 687.5,476.3 697.5,481.3 708.8,490.0 718.8,492.0 729.5,491.3 740.5,507.0 750.5,497.5 761.5,533.3 771.3,530.8 782.5,518.8 792.5,507.5 803.8,502.5 813.8,487.5 824.5,478.8 835.0,470.8 845.5,476.3 856.3,486.3 865.8,490.0" fill="none" stroke="#000" stroke-width="1" stroke-linejoin="round" shape-rendering="crispEdges" />
<polyline points="5.5,519.5 16.3,520.8 37.5,520.0 57.5,517.5 75.0,508.8 90.0,502.5 105.0,496.8 120.0,493.8 135.0,493.3 150.0,491.3 172.5,489.5 185.0,485.0 200.0,481.3 212.5,477.5 225.0,475.5 240.0,477.0 255.0,477.5 267.5,483.0 282.5,487.5 297.5,491.3 315.0,491.8 332.5,495.0 350.0,498.0 362.5,502.0 372.5,502.0 390.0,500.0 410.0,498.8 425.0,496.3 435.0,492.5 447.5,482.5 460.0,477.0 475.0,476.3 495.0,473.8 507.5,473.3 520.0,476.3 535.0,482.0 552.5,485.5 570.0,493.8 587.5,501.3 605.0,505.8 622.5,508.3 635.0,506.8 650.0,501.3 667.5,495.0 685.0,488.0 700.0,484.5 717.5,485.0 735.0,488.0 750.0,491.3 765.0,500.0 780.0,507.0 795.0,510.8 805.0,511.3 820.0,508.8 835.0,502.5 850.0,493.8 860.0,489.5 865.8,488.0" fill="none" stroke="#ff0000" stroke-width="1" stroke-linejoin="round" shape-rendering="crispEdges" />
</g>
<line x1="5" y1="555.5" x2="966" y2="555.5" stroke="#8c8c8c" stroke-width="1" stroke-dasharray="1 4"/>
<g shape-rendering="crispEdges">
<line x1="1.0" y1="578.5" x2="966.0" y2="578.5" stroke="#000" stroke-width="1" />
<rect x="2.0" y="579.0" width="9.0" height="17.6" fill="#000" shape-rendering="auto"/>
<rect x="12.0" y="579.0" width="9.0" height="17.6" fill="#000" shape-rendering="auto"/>
<rect x="22.0" y="579.0" width="9.0" height="17.6" fill="#000" shape-rendering="auto"/>
<rect x="33.0" y="579.0" width="9.0" height="17.6" fill="#000" shape-rendering="auto"/>
<rect x="43.0" y="579.0" width="9.0" height="17.6" fill="#000" shape-rendering="auto"/>
<rect x="54.0" y="579.0" width="9.0" height="10.0" fill="#000" />
<rect x="64.0" y="579.0" width="9.0" height="7.0" fill="#000" />
<rect x="75.0" y="579.0" width="9.0" height="12.0" fill="#000" />
<rect x="85.0" y="579.0" width="9.0" height="11.0" fill="#000" />
<rect x="96.0" y="579.0" width="9.0" height="7.0" fill="#000" />
<rect x="106.0" y="574.0" width="9.0" height="4.0" fill="#000" />
<rect x="117.0" y="579.0" width="9.0" height="6.0" fill="#000" />
<rect x="127.0" y="577.0" width="9.0" height="1.0" fill="#000" />
<rect x="138.0" y="565.0" width="9.0" height="13.0" fill="#000" />
<rect x="148.0" y="570.0" width="9.0" height="8.0" fill="#000" />
<rect x="159.0" y="571.0" width="9.0" height="7.0" fill="#000" />
<rect x="169.0" y="568.0" width="9.0" height="10.0" fill="#000" />
<rect x="180.0" y="556.0" width="9.0" height="22.0" fill="#000" />
<rect x="190.0" y="560.0" width="9.0" height="18.0" fill="#000" />
<rect x="201.0" y="555.0" width="9.0" height="23.0" fill="#000" />
<rect x="211.0" y="553.0" width="9.0" height="25.0" fill="#000" />
<rect x="222.0" y="556.0" width="9.0" height="22.0" fill="#000" />
<rect x="232.0" y="566.0" width="9.0" height="12.0" fill="#000" />
<rect x="243.0" y="555.0" width="9.0" height="23.0" fill="#000" />
<rect x="253.0" y="548.0" width="9.0" height="30.0" fill="#000" />
<rect x="264.0" y="560.0" width="9.0" height="18.0" fill="#000" />
<rect x="274.0" y="556.0" width="9.0" height="22.0" fill="#000" />
<rect x="285.0" y="560.0" width="9.0" height="18.0" fill="#000" />
<rect x="295.0" y="561.0" width="9.0" height="17.0" fill="#000" />
<rect x="306.0" y="574.0" width="9.0" height="4.0" fill="#000" />
<rect x="327.0" y="579.0" width="9.0" height="6.0" fill="#000" />
<rect x="337.0" y="579.0" width="9.0" height="6.0" fill="#000" />
<rect x="348.0" y="579.0" width="9.0" height="4.0" fill="#000" />
<rect x="358.0" y="577.0" width="9.0" height="1.0" fill="#000" />
<rect x="369.0" y="574.0" width="9.0" height="4.0" fill="#000" />
<rect x="379.0" y="576.0" width="9.0" height="2.0" fill="#000" />
<rect x="390.0" y="579.0" width="9.0" height="1.0" fill="#000" />
<rect x="400.0" y="579.0" width="9.0" height="2.0" fill="#000" />
<rect x="411.0" y="576.0" width="9.0" height="2.0" fill="#000" />
<rect x="421.0" y="577.0" width="9.0" height="1.0" fill="#000" />
<rect x="432.0" y="575.0" width="9.0" height="3.0" fill="#000" />
<rect x="442.0" y="551.0" width="9.0" height="27.0" fill="#000" />
<rect x="452.0" y="544.0" width="9.0" height="34.0" fill="#000" />
<rect x="463.0" y="547.0" width="9.0" height="31.0" fill="#000" />
<rect x="473.0" y="546.0" width="9.0" height="32.0" fill="#000" />
<rect x="484.0" y="545.0" width="9.0" height="33.0" fill="#000" />
<rect x="494.0" y="552.0" width="9.0" height="26.0" fill="#000" />
<rect x="505.0" y="552.0" width="9.0" height="26.0" fill="#000" />
<rect x="515.0" y="546.0" width="9.0" height="32.0" fill="#000" />
<rect x="526.0" y="543.0" width="9.0" height="35.0" fill="#000" />
<rect x="536.0" y="546.0" width="9.0" height="32.0" fill="#000" />
<rect x="547.0" y="548.0" width="9.0" height="30.0" fill="#000" />
<rect x="557.0" y="562.0" width="9.0" height="16.0" fill="#000" />
<rect x="568.0" y="577.0" width="9.0" height="1.0" fill="#000" />
<rect x="578.0" y="579.0" width="9.0" height="6.0" fill="#000" />
<rect x="589.0" y="579.0" width="9.0" height="6.0" fill="#000" />
<rect x="599.0" y="579.0" width="9.0" height="4.0" fill="#000" />
<rect x="610.0" y="579.0" width="9.0" height="2.0" fill="#000" />
<rect x="620.0" y="576.0" width="9.0" height="2.0" fill="#000" />
<rect x="631.0" y="575.0" width="9.0" height="3.0" fill="#000" />
<rect x="652.0" y="579.0" width="9.0" height="4.0" fill="#000" />
<rect x="662.0" y="579.0" width="9.0" height="1.0" fill="#000" />
<rect x="673.0" y="579.0" width="9.0" height="1.0" fill="#000" />
<rect x="683.0" y="566.0" width="9.0" height="12.0" fill="#000" />
<rect x="694.0" y="570.0" width="9.0" height="8.0" fill="#000" />
<rect x="704.0" y="568.0" width="9.0" height="10.0" fill="#000" />
<rect x="715.0" y="568.0" width="9.0" height="10.0" fill="#000" />
<rect x="725.0" y="572.0" width="9.0" height="6.0" fill="#000" />
<rect x="736.0" y="572.0" width="9.0" height="6.0" fill="#000" />
<rect x="746.0" y="576.0" width="9.0" height="2.0" fill="#000" />
<rect x="757.0" y="579.0" width="9.0" height="8.0" fill="#000" />
<rect x="767.0" y="579.0" width="9.0" height="10.0" fill="#000" />
<rect x="778.0" y="579.0" width="9.0" height="7.0" fill="#000" />
<rect x="788.0" y="579.0" width="9.0" height="3.0" fill="#000" />
<rect x="799.0" y="579.0" width="9.0" height="2.0" fill="#000" />
<rect x="809.0" y="579.0" width="9.0" height="6.0" fill="#000" />
<rect x="820.0" y="574.0" width="9.0" height="4.0" fill="#000" />
<rect x="830.0" y="570.0" width="9.0" height="8.0" fill="#000" />
<rect x="841.0" y="570.0" width="9.0" height="8.0" fill="#000" />
<rect x="851.0" y="574.0" width="9.0" height="4.0" fill="#000" />
<rect x="862.0" y="574.0" width="9.0" height="4.0" fill="#000" />
</g>
<line x1="5" y1="602.5" x2="966" y2="602.5" stroke="#8c8c8c" stroke-width="1" stroke-dasharray="1 4"/>
<line x1="5" y1="634.5" x2="966" y2="634.5" stroke="#8c8c8c" stroke-width="1" stroke-dasharray="1 4"/>
<line x1="5" y1="651.5" x2="966" y2="651.5" stroke="#8c8c8c" stroke-width="1" stroke-dasharray="1 4"/>
<line x1="5" y1="668.5" x2="966" y2="668.5" stroke="#8c8c8c" stroke-width="1" stroke-dasharray="1 4"/>
<line x1="5" y1="684.5" x2="966" y2="684.5" stroke="#8c8c8c" stroke-width="1" stroke-dasharray="1 4"/>
<polygon points="5.5,620.0 25.0,623.8 50.0,627.5 75.0,631.3 100.0,633.8 120.0,635.0 150.0,635.0 175.0,634.3 190.0,630.0 212.5,627.5 237.5,627.0 256.0,626.3 290.0,624.5 340.0,625.0 390.0,626.3 430.0,625.0 452.5,620.0 477.5,613.0 495.0,610.0 525.0,606.3 555.0,606.3 580.0,608.3 610.0,608.8 640.0,610.0 655.0,611.8 692.5,612.5 764.5,612.3 779.4,609.8 865.5,609.8 866.0,658.0 850.6,658.0 844.7,658.8 791.3,658.8 764.5,656.5 749.7,654.4 705.0,654.3 697.5,653.0 675.0,655.8 655.0,658.8 635.0,663.0 610.0,665.5 587.5,668.8 565.0,670.8 545.0,675.5 525.0,680.0 505.0,683.0 480.0,684.3 462.5,683.8 442.5,683.0 347.5,683.0 345.0,684.0 200.0,683.8 175.0,683.3 125.0,683.3 62.5,683.0 42.5,681.8 25.0,680.8 15.0,679.5 6.3,676.8" fill="#fff" stroke="none"/>
<g shape-rendering="crispEdges">
<line x1="1.0" y1="619.5" x2="966.0" y2="619.5" stroke="#000" stroke-width="1" />
<line x1="1.0" y1="682.5" x2="966.0" y2="682.5" stroke="#000" stroke-width="1" />
</g>
<polyline points="5.5,620.0 25.0,623.8 50.0,627.5 75.0,631.3 100.0,633.8 120.0,635.0 150.0,635.0 175.0,634.3 190.0,630.0 212.5,627.5 237.5,627.0 256.0,626.3 290.0,624.5 340.0,625.0 390.0,626.3 430.0,625.0 452.5,620.0 477.5,613.0 495.0,610.0 525.0,606.3 555.0,606.3 580.0,608.3 610.0,608.8 640.0,610.0 655.0,611.8 692.5,612.5 764.5,612.3 779.4,609.8 865.5,609.8" fill="none" stroke="#ff0000" stroke-width="1" stroke-linejoin="round" shape-rendering="crispEdges" />
<polyline points="6.3,676.8 15.0,679.5 25.0,680.8 42.5,681.8 62.5,683.0 125.0,683.3 175.0,683.3 200.0,683.8 345.0,684.0 347.5,683.0 442.5,683.0 462.5,683.8 480.0,684.3 505.0,683.0 525.0,680.0 545.0,675.5 565.0,670.8 587.5,668.8 610.0,665.5 635.0,663.0 655.0,658.8 675.0,655.8 697.5,653.0 705.0,654.3 749.7,654.4 764.5,656.5 791.3,658.8 844.7,658.8 850.6,658.0 866.0,658.0" fill="none" stroke="#ff0000" stroke-width="1" stroke-linejoin="round" shape-rendering="crispEdges" />
<polyline points="5.5,652.0 25.0,653.0 50.0,655.0 75.0,656.3 100.0,657.5 125.0,658.3 150.0,658.3 175.0,657.5 200.0,656.3 225.0,655.8 256.0,654.5 290.0,654.3 340.0,654.5 365.0,654.5 390.0,653.8 415.0,653.0 440.0,652.0 452.5,650.5 465.0,648.8 480.0,648.0 505.0,645.0 530.0,642.5 555.0,640.0 580.0,638.8 605.0,637.0 630.0,635.5 655.0,634.5 680.0,633.8 705.0,633.8 736.0,633.3 779.4,633.6 791.0,635.0 818.0,635.0 830.0,633.6 865.5,634.2" fill="none" stroke="#ff0000" stroke-width="1" stroke-linejoin="round" shape-rendering="crispEdges" stroke-dasharray="3 3"/>
<polyline points="5.5,680.0 16.3,680.0 26.3,675.5 37.5,675.5 47.5,676.3 58.8,660.5 68.8,659.5 80.0,663.0 90.0,663.0 100.0,658.3 110.5,658.3 121.3,666.3 131.8,672.0 142.5,650.5 153.0,653.0 163.8,655.5 173.8,652.5 184.5,627.0 195.0,634.3 205.5,631.3 216.3,628.3 226.3,629.3 236.3,645.0 247.5,639.5 257.5,637.5 268.0,635.5 278.8,635.0 289.3,642.0 300.0,640.0 310.5,632.5 320.5,645.0 331.5,648.3 342.0,645.0 352.5,645.5 362.5,652.5 373.8,641.3 383.8,641.3 394.5,642.5 405.0,644.5 415.0,645.5 425.0,644.3 437.5,630.0 446.3,614.5 457.5,612.5 466.3,613.3 477.5,612.0 487.5,621.3 500.0,619.5 510.0,619.3 520.0,614.5 530.0,613.0 540.0,620.8 551.3,623.0 561.3,636.3 572.0,635.0 582.5,639.5 593.0,642.5 603.8,635.0 614.3,639.3 625.0,631.8 635.5,629.3 645.0,627.0 656.3,631.8 666.3,632.5 677.5,634.5 687.5,623.3 698.8,634.3 708.8,633.3 720.0,635.0 730.4,636.6 740.2,640.4 750.3,636.6 761.0,657.4 771.0,660.3 782.4,656.5 792.7,650.0 803.0,648.4 813.5,642.5 824.0,630.0 834.6,624.0 844.7,629.0 855.7,638.6 865.5,640.4" fill="none" stroke="#000" stroke-width="1" stroke-linejoin="round" shape-rendering="crispEdges" />
<g shape-rendering="crispEdges">
<rect x="0.0" y="0.0" width="967.0" height="1.0" fill="#bdbdbd" />
<rect x="0.0" y="0.0" width="1.0" height="691.0" fill="#c0c0c0" />
</g>
<rect x="0.0" y="693.8" width="967.0" height="2.6" fill="#ff0000" />
<g shape-rendering="crispEdges">
<rect x="0.0" y="698.0" width="966.0" height="31.0" fill="#cacaca" />
<rect x="0.0" y="698.0" width="966.0" height="1.0" fill="#bcbcbc" />
<rect x="0.0" y="698.0" width="1.0" height="31.0" fill="#808080" />
<rect x="0.0" y="729.0" width="967.0" height="1.0" fill="#fff" />
<rect x="966.0" y="697.0" width="1.0" height="33.0" fill="#fff" />
<rect x="37.0" y="699.0" width="1.0" height="5.0" fill="#00007a" />
<rect x="79.0" y="699.0" width="1.0" height="5.0" fill="#00007a" />
<rect x="121.0" y="699.0" width="1.0" height="5.0" fill="#00007a" />
<rect x="163.0" y="699.0" width="1.0" height="5.0" fill="#00007a" />
<rect x="205.0" y="699.0" width="1.0" height="5.0" fill="#00007a" />
<rect x="247.0" y="699.0" width="1.0" height="5.0" fill="#00007a" />
<rect x="289.0" y="699.0" width="1.0" height="5.0" fill="#00007a" />
<rect x="331.0" y="699.0" width="1.0" height="5.0" fill="#00007a" />
<rect x="372.0" y="699.0" width="1.0" height="5.0" fill="#00007a" />
<rect x="414.0" y="699.0" width="1.0" height="5.0" fill="#00007a" />
<rect x="456.0" y="699.0" width="1.0" height="5.0" fill="#00007a" />
<rect x="498.0" y="699.0" width="1.0" height="5.0" fill="#00007a" />
<rect x="540.0" y="699.0" width="1.0" height="5.0" fill="#00007a" />
<rect x="582.0" y="699.0" width="1.0" height="5.0" fill="#00007a" />
<rect x="624.0" y="699.0" width="1.0" height="5.0" fill="#00007a" />
<rect x="666.0" y="699.0" width="1.0" height="5.0" fill="#00007a" />
<rect x="708.0" y="699.0" width="1.0" height="5.0" fill="#00007a" />
<rect x="750.0" y="699.0" width="1.0" height="5.0" fill="#00007a" />
<rect x="792.0" y="699.0" width="1.0" height="5.0" fill="#00007a" />
<rect x="834.0" y="699.0" width="1.0" height="5.0" fill="#00007a" />
</g>
<text x="6.0" y="716.5" fill="#00007a" stroke="#00007a" stroke-width="0.3" font-size="11.5" text-anchor="start" textLength="26.5" lengthAdjust="spacingAndGlyphs" >17:00</text>
<text x="37.5" y="716.5" fill="#00007a" stroke="#00007a" stroke-width="0.3" font-size="11.5" text-anchor="start" textLength="26.5" lengthAdjust="spacingAndGlyphs" >20:00</text>
<text x="163.2" y="716.5" fill="#00007a" stroke="#00007a" stroke-width="0.3" font-size="11.5" text-anchor="start" textLength="26.5" lengthAdjust="spacingAndGlyphs" >20:00</text>
<text x="288.9" y="716.5" fill="#00007a" stroke="#00007a" stroke-width="0.3" font-size="11.5" text-anchor="start" textLength="26.5" lengthAdjust="spacingAndGlyphs" >20:00</text>
<text x="414.6" y="716.5" fill="#00007a" stroke="#00007a" stroke-width="0.3" font-size="11.5" text-anchor="start" textLength="26.5" lengthAdjust="spacingAndGlyphs" >20:00</text>
<text x="540.3" y="716.5" fill="#00007a" stroke="#00007a" stroke-width="0.3" font-size="11.5" text-anchor="start" textLength="26.5" lengthAdjust="spacingAndGlyphs" >20:00</text>
<text x="666.0" y="716.5" fill="#00007a" stroke="#00007a" stroke-width="0.3" font-size="11.5" text-anchor="start" textLength="26.5" lengthAdjust="spacingAndGlyphs" >20:00</text>
<text x="791.7" y="716.5" fill="#00007a" stroke="#00007a" stroke-width="0.3" font-size="11.5" text-anchor="start" textLength="26.5" lengthAdjust="spacingAndGlyphs" >20:00</text>
<text x="91.0" y="716.5" fill="#00007a" stroke="#00007a" stroke-width="0.3" font-size="11.5" text-anchor="start" textLength="13.5" lengthAdjust="spacingAndGlyphs" >23.</text>
<text x="127.5" y="716.5" fill="#00007a" stroke="#00007a" stroke-width="0.3" font-size="11.5" text-anchor="start" textLength="26.5" lengthAdjust="spacingAndGlyphs" >16:00</text>
<text x="216.8" y="716.5" fill="#00007a" stroke="#00007a" stroke-width="0.3" font-size="11.5" text-anchor="start" textLength="13.5" lengthAdjust="spacingAndGlyphs" >24.</text>
<text x="253.3" y="716.5" fill="#00007a" stroke="#00007a" stroke-width="0.3" font-size="11.5" text-anchor="start" textLength="26.5" lengthAdjust="spacingAndGlyphs" >16:00</text>
<text x="342.6" y="716.5" fill="#00007a" stroke="#00007a" stroke-width="0.3" font-size="11.5" text-anchor="start" textLength="13.5" lengthAdjust="spacingAndGlyphs" >25.</text>
<text x="379.1" y="716.5" fill="#00007a" stroke="#00007a" stroke-width="0.3" font-size="11.5" text-anchor="start" textLength="26.5" lengthAdjust="spacingAndGlyphs" >16:00</text>
<text x="468.4" y="716.5" fill="#00007a" stroke="#00007a" stroke-width="0.3" font-size="11.5" text-anchor="start" textLength="13.5" lengthAdjust="spacingAndGlyphs" >28.</text>
<text x="504.9" y="716.5" fill="#00007a" stroke="#00007a" stroke-width="0.3" font-size="11.5" text-anchor="start" textLength="26.5" lengthAdjust="spacingAndGlyphs" >16:00</text>
<text x="594.2" y="716.5" fill="#00007a" stroke="#00007a" stroke-width="0.3" font-size="11.5" text-anchor="start" textLength="13.5" lengthAdjust="spacingAndGlyphs" >29.</text>
<text x="630.7" y="716.5" fill="#00007a" stroke="#00007a" stroke-width="0.3" font-size="11.5" text-anchor="start" textLength="26.5" lengthAdjust="spacingAndGlyphs" >16:00</text>
<text x="720.0" y="716.5" fill="#00007a" stroke="#00007a" stroke-width="0.3" font-size="11.5" text-anchor="start" textLength="13.5" lengthAdjust="spacingAndGlyphs" >30.</text>
<text x="756.5" y="716.5" fill="#00007a" stroke="#00007a" stroke-width="0.3" font-size="11.5" text-anchor="start" textLength="26.5" lengthAdjust="spacingAndGlyphs" >16:00</text>
<text x="841.0" y="716.5" fill="#00007a" stroke="#00007a" stroke-width="0.3" font-size="11.5" text-anchor="start" textLength="14.0" lengthAdjust="spacingAndGlyphs" >Jul</text>
<text x="336.3" y="739.5" fill="#8a8a8a" stroke="#8a8a8a" stroke-width="0.3" font-size="11" text-anchor="start" textLength="350.0" lengthAdjust="spacingAndGlyphs" >TradeSignal® and www.technical-investor.de © by SystemSoft, www.systemsoft.de</text>
<g shape-rendering="crispEdges">
<rect x="967.0" y="0.0" width="57.0" height="17.0" fill="#cacaca" />
<rect x="967.0" y="0.0" width="56.0" height="1.0" fill="#a0a0a0" />
<rect x="967.0" y="0.0" width="1.0" height="17.0" fill="#a0a0a0" />
<rect x="967.0" y="16.0" width="57.0" height="1.0" fill="#fff" />
<rect x="1023.0" y="0.0" width="1.0" height="17.0" fill="#fff" />
<rect x="967.0" y="17.0" width="57.0" height="435.0" fill="#cacaca" />
<rect x="967.0" y="17.0" width="56.0" height="1.0" fill="#a0a0a0" />
<rect x="967.0" y="17.0" width="1.0" height="435.0" fill="#a0a0a0" />
<rect x="967.0" y="451.0" width="57.0" height="1.0" fill="#fff" />
<rect x="1023.0" y="17.0" width="1.0" height="435.0" fill="#fff" />
<rect x="967.0" y="454.0" width="57.0" height="17.0" fill="#cacaca" />
<rect x="967.0" y="454.0" width="56.0" height="1.0" fill="#a0a0a0" />
<rect x="967.0" y="454.0" width="1.0" height="17.0" fill="#a0a0a0" />
<rect x="967.0" y="470.0" width="57.0" height="1.0" fill="#fff" />
<rect x="1023.0" y="454.0" width="1.0" height="17.0" fill="#fff" />
<rect x="967.0" y="471.0" width="57.0" height="65.0" fill="#cacaca" />
<rect x="967.0" y="471.0" width="56.0" height="1.0" fill="#a0a0a0" />
<rect x="967.0" y="471.0" width="1.0" height="65.0" fill="#a0a0a0" />
<rect x="967.0" y="535.0" width="57.0" height="1.0" fill="#fff" />
<rect x="1023.0" y="471.0" width="1.0" height="65.0" fill="#fff" />
<rect x="967.0" y="539.0" width="57.0" height="16.0" fill="#cacaca" />
<rect x="967.0" y="539.0" width="56.0" height="1.0" fill="#a0a0a0" />
<rect x="967.0" y="539.0" width="1.0" height="16.0" fill="#a0a0a0" />
<rect x="967.0" y="554.0" width="57.0" height="1.0" fill="#fff" />
<rect x="1023.0" y="539.0" width="1.0" height="16.0" fill="#fff" />
<rect x="967.0" y="555.0" width="57.0" height="42.0" fill="#cacaca" />
<rect x="967.0" y="555.0" width="56.0" height="1.0" fill="#a0a0a0" />
<rect x="967.0" y="555.0" width="1.0" height="42.0" fill="#a0a0a0" />
<rect x="967.0" y="596.0" width="57.0" height="1.0" fill="#fff" />
<rect x="1023.0" y="555.0" width="1.0" height="42.0" fill="#fff" />
<rect x="967.0" y="598.0" width="57.0" height="18.0" fill="#cacaca" />
<rect x="967.0" y="598.0" width="56.0" height="1.0" fill="#a0a0a0" />
<rect x="967.0" y="598.0" width="1.0" height="18.0" fill="#a0a0a0" />
<rect x="967.0" y="615.0" width="57.0" height="1.0" fill="#fff" />
<rect x="1023.0" y="598.0" width="1.0" height="18.0" fill="#fff" />
<rect x="967.0" y="616.0" width="57.0" height="76.0" fill="#cacaca" />
<rect x="967.0" y="616.0" width="56.0" height="1.0" fill="#a0a0a0" />
<rect x="967.0" y="616.0" width="1.0" height="76.0" fill="#a0a0a0" />
<rect x="967.0" y="691.0" width="57.0" height="1.0" fill="#fff" />
<rect x="1023.0" y="616.0" width="1.0" height="76.0" fill="#fff" />
<rect x="967.0" y="694.0" width="57.0" height="2.0" fill="#f4f4f4" />
<rect x="969.0" y="19.0" width="1.0" height="1.0" fill="#00007a" />
<rect x="969.0" y="23.0" width="1.0" height="1.0" fill="#00007a" />
<rect x="969.0" y="28.0" width="1.0" height="1.0" fill="#00007a" />
<rect x="969.0" y="33.0" width="1.0" height="1.0" fill="#00007a" />
<rect x="969.0" y="37.0" width="1.0" height="1.0" fill="#00007a" />
<rect x="969.0" y="42.0" width="1.0" height="1.0" fill="#00007a" />
<rect x="969.0" y="47.0" width="1.0" height="1.0" fill="#00007a" />
<rect x="969.0" y="52.0" width="1.0" height="1.0" fill="#00007a" />
<rect x="969.0" y="56.0" width="1.0" height="1.0" fill="#00007a" />
<rect x="969.0" y="61.0" width="1.0" height="1.0" fill="#00007a" />
<rect x="969.0" y="66.0" width="1.0" height="1.0" fill="#00007a" />
<rect x="969.0" y="70.0" width="1.0" height="1.0" fill="#00007a" />
<rect x="969.0" y="75.0" width="1.0" height="1.0" fill="#00007a" />
<rect x="969.0" y="80.0" width="1.0" height="1.0" fill="#00007a" />
<rect x="969.0" y="84.0" width="1.0" height="1.0" fill="#00007a" />
<rect x="969.0" y="89.0" width="1.0" height="1.0" fill="#00007a" />
<rect x="969.0" y="94.0" width="1.0" height="1.0" fill="#00007a" />
<rect x="969.0" y="98.0" width="1.0" height="1.0" fill="#00007a" />
<rect x="969.0" y="103.0" width="1.0" height="1.0" fill="#00007a" />
<rect x="969.0" y="108.0" width="1.0" height="1.0" fill="#00007a" />
<rect x="969.0" y="112.0" width="1.0" height="1.0" fill="#00007a" />
<rect x="969.0" y="117.0" width="1.0" height="1.0" fill="#00007a" />
<rect x="969.0" y="122.0" width="1.0" height="1.0" fill="#00007a" />
<rect x="969.0" y="127.0" width="1.0" height="1.0" fill="#00007a" />
<rect x="969.0" y="131.0" width="1.0" height="1.0" fill="#00007a" />
<rect x="969.0" y="136.0" width="1.0" height="1.0" fill="#00007a" />
<rect x="969.0" y="141.0" width="1.0" height="1.0" fill="#00007a" />
<rect x="969.0" y="145.0" width="1.0" height="1.0" fill="#00007a" />
<rect x="969.0" y="150.0" width="1.0" height="1.0" fill="#00007a" />
<rect x="969.0" y="155.0" width="1.0" height="1.0" fill="#00007a" />
<rect x="969.0" y="159.0" width="1.0" height="1.0" fill="#00007a" />
<rect x="969.0" y="164.0" width="1.0" height="1.0" fill="#00007a" />
<rect x="969.0" y="169.0" width="1.0" height="1.0" fill="#00007a" />
<rect x="969.0" y="173.0" width="1.0" height="1.0" fill="#00007a" />
<rect x="969.0" y="178.0" width="1.0" height="1.0" fill="#00007a" />
<rect x="969.0" y="183.0" width="1.0" height="1.0" fill="#00007a" />
<rect x="969.0" y="188.0" width="1.0" height="1.0" fill="#00007a" />
<rect x="969.0" y="192.0" width="1.0" height="1.0" fill="#00007a" />
<rect x="969.0" y="197.0" width="1.0" height="1.0" fill="#00007a" />
<rect x="969.0" y="202.0" width="1.0" height="1.0" fill="#00007a" />
<rect x="969.0" y="206.0" width="1.0" height="1.0" fill="#00007a" />
<rect x="969.0" y="211.0" width="1.0" height="1.0" fill="#00007a" />
<rect x="969.0" y="216.0" width="1.0" height="1.0" fill="#00007a" />
<rect x="969.0" y="220.0" width="1.0" height="1.0" fill="#00007a" />
<rect x="969.0" y="225.0" width="1.0" height="1.0" fill="#00007a" />
<rect x="969.0" y="230.0" width="1.0" height="1.0" fill="#00007a" />
<rect x="969.0" y="234.0" width="1.0" height="1.0" fill="#00007a" />
<rect x="969.0" y="239.0" width="1.0" height="1.0" fill="#00007a" />
<rect x="969.0" y="244.0" width="1.0" height="1.0" fill="#00007a" />
<rect x="969.0" y="249.0" width="1.0" height="1.0" fill="#00007a" />
<rect x="969.0" y="253.0" width="1.0" height="1.0" fill="#00007a" />
<rect x="969.0" y="258.0" width="1.0" height="1.0" fill="#00007a" />
<rect x="969.0" y="263.0" width="1.0" height="1.0" fill="#00007a" />
<rect x="969.0" y="267.0" width="1.0" height="1.0" fill="#00007a" />
<rect x="969.0" y="272.0" width="1.0" height="1.0" fill="#00007a" />
<rect x="969.0" y="277.0" width="1.0" height="1.0" fill="#00007a" />
<rect x="969.0" y="281.0" width="1.0" height="1.0" fill="#00007a" />
<rect x="969.0" y="286.0" width="1.0" height="1.0" fill="#00007a" />
<rect x="969.0" y="291.0" width="1.0" height="1.0" fill="#00007a" />
<rect x="969.0" y="295.0" width="1.0" height="1.0" fill="#00007a" />
<rect x="969.0" y="300.0" width="1.0" height="1.0" fill="#00007a" />
<rect x="969.0" y="305.0" width="1.0" height="1.0" fill="#00007a" />
<rect x="969.0" y="309.0" width="1.0" height="1.0" fill="#00007a" />
<rect x="969.0" y="314.0" width="1.0" height="1.0" fill="#00007a" />
<rect x="969.0" y="319.0" width="1.0" height="1.0" fill="#00007a" />
<rect x="969.0" y="324.0" width="1.0" height="1.0" fill="#00007a" />
<rect x="969.0" y="328.0" width="1.0" height="1.0" fill="#00007a" />
<rect x="969.0" y="333.0" width="1.0" height="1.0" fill="#00007a" />
<rect x="969.0" y="338.0" width="1.0" height="1.0" fill="#00007a" />
<rect x="969.0" y="342.0" width="1.0" height="1.0" fill="#00007a" />
<rect x="969.0" y="347.0" width="1.0" height="1.0" fill="#00007a" />
<rect x="969.0" y="352.0" width="1.0" height="1.0" fill="#00007a" />
<rect x="969.0" y="356.0" width="1.0" height="1.0" fill="#00007a" />
<rect x="969.0" y="361.0" width="1.0" height="1.0" fill="#00007a" />
<rect x="969.0" y="366.0" width="1.0" height="1.0" fill="#00007a" />
<rect x="969.0" y="370.0" width="1.0" height="1.0" fill="#00007a" />
<rect x="969.0" y="375.0" width="1.0" height="1.0" fill="#00007a" />
<rect x="969.0" y="380.0" width="1.0" height="1.0" fill="#00007a" />
<rect x="969.0" y="385.0" width="1.0" height="1.0" fill="#00007a" />
<rect x="969.0" y="389.0" width="1.0" height="1.0" fill="#00007a" />
<rect x="969.0" y="394.0" width="1.0" height="1.0" fill="#00007a" />
<rect x="969.0" y="399.0" width="1.0" height="1.0" fill="#00007a" />
<rect x="969.0" y="403.0" width="1.0" height="1.0" fill="#00007a" />
<rect x="969.0" y="408.0" width="1.0" height="1.0" fill="#00007a" />
<rect x="969.0" y="413.0" width="1.0" height="1.0" fill="#00007a" />
<rect x="969.0" y="417.0" width="1.0" height="1.0" fill="#00007a" />
<rect x="969.0" y="422.0" width="1.0" height="1.0" fill="#00007a" />
<rect x="969.0" y="427.0" width="1.0" height="1.0" fill="#00007a" />
<rect x="969.0" y="431.0" width="1.0" height="1.0" fill="#00007a" />
<rect x="969.0" y="436.0" width="1.0" height="1.0" fill="#00007a" />
<rect x="969.0" y="441.0" width="1.0" height="1.0" fill="#00007a" />
<rect x="969.0" y="445.0" width="1.0" height="1.0" fill="#00007a" />
<rect x="969.0" y="441.0" width="3.0" height="1.0" fill="#00007a" />
<rect x="969.0" y="417.0" width="3.0" height="1.0" fill="#00007a" />
<rect x="969.0" y="394.0" width="3.0" height="1.0" fill="#00007a" />
<rect x="969.0" y="370.0" width="3.0" height="1.0" fill="#00007a" />
<rect x="969.0" y="347.0" width="3.0" height="1.0" fill="#00007a" />
<rect x="969.0" y="324.0" width="3.0" height="1.0" fill="#00007a" />
<rect x="969.0" y="300.0" width="3.0" height="1.0" fill="#00007a" />
<rect x="969.0" y="277.0" width="3.0" height="1.0" fill="#00007a" />
<rect x="969.0" y="253.0" width="3.0" height="1.0" fill="#00007a" />
<rect x="969.0" y="230.0" width="3.0" height="1.0" fill="#00007a" />
<rect x="969.0" y="206.0" width="3.0" height="1.0" fill="#00007a" />
<rect x="969.0" y="183.0" width="3.0" height="1.0" fill="#00007a" />
<rect x="969.0" y="159.0" width="3.0" height="1.0" fill="#00007a" />
<rect x="969.0" y="136.0" width="3.0" height="1.0" fill="#00007a" />
<rect x="969.0" y="113.0" width="3.0" height="1.0" fill="#00007a" />
<rect x="969.0" y="89.0" width="3.0" height="1.0" fill="#00007a" />
<rect x="969.0" y="66.0" width="3.0" height="1.0" fill="#00007a" />
<rect x="969.0" y="42.0" width="3.0" height="1.0" fill="#00007a" />
<rect x="969.0" y="472.0" width="1.0" height="1.0" fill="#00007a" />
<rect x="969.0" y="475.0" width="1.0" height="1.0" fill="#00007a" />
<rect x="969.0" y="479.0" width="1.0" height="1.0" fill="#00007a" />
<rect x="969.0" y="482.0" width="1.0" height="1.0" fill="#00007a" />
<rect x="969.0" y="486.0" width="1.0" height="1.0" fill="#00007a" />
<rect x="969.0" y="489.0" width="1.0" height="1.0" fill="#00007a" />
<rect x="969.0" y="493.0" width="1.0" height="1.0" fill="#00007a" />
<rect x="969.0" y="496.0" width="1.0" height="1.0" fill="#00007a" />
<rect x="969.0" y="499.0" width="1.0" height="1.0" fill="#00007a" />
<rect x="969.0" y="503.0" width="1.0" height="1.0" fill="#00007a" />
<rect x="969.0" y="506.0" width="1.0" height="1.0" fill="#00007a" />
<rect x="969.0" y="510.0" width="1.0" height="1.0" fill="#00007a" />
<rect x="969.0" y="513.0" width="1.0" height="1.0" fill="#00007a" />
<rect x="969.0" y="516.0" width="1.0" height="1.0" fill="#00007a" />
<rect x="969.0" y="520.0" width="1.0" height="1.0" fill="#00007a" />
<rect x="969.0" y="523.0" width="1.0" height="1.0" fill="#00007a" />
<rect x="969.0" y="527.0" width="1.0" height="1.0" fill="#00007a" />
<rect x="969.0" y="530.0" width="1.0" height="1.0" fill="#00007a" />
<rect x="969.0" y="497.0" width="3.0" height="1.0" fill="#00007a" />
<rect x="969.0" y="514.0" width="3.0" height="1.0" fill="#00007a" />
<rect x="969.0" y="558.0" width="1.0" height="1.0" fill="#00007a" />
<rect x="969.0" y="562.0" width="1.0" height="1.0" fill="#00007a" />
<rect x="969.0" y="567.0" width="1.0" height="1.0" fill="#00007a" />
<rect x="969.0" y="572.0" width="1.0" height="1.0" fill="#00007a" />
<rect x="969.0" y="576.0" width="1.0" height="1.0" fill="#00007a" />
<rect x="969.0" y="581.0" width="1.0" height="1.0" fill="#00007a" />
<rect x="969.0" y="586.0" width="1.0" height="1.0" fill="#00007a" />
<rect x="969.0" y="591.0" width="1.0" height="1.0" fill="#00007a" />
<rect x="969.0" y="578.0" width="3.0" height="1.0" fill="#00007a" />
<rect x="969.0" y="620.0" width="1.0" height="1.0" fill="#00007a" />
<rect x="969.0" y="623.0" width="1.0" height="1.0" fill="#00007a" />
<rect x="969.0" y="626.0" width="1.0" height="1.0" fill="#00007a" />
<rect x="969.0" y="629.0" width="1.0" height="1.0" fill="#00007a" />
<rect x="969.0" y="633.0" width="1.0" height="1.0" fill="#00007a" />
<rect x="969.0" y="636.0" width="1.0" height="1.0" fill="#00007a" />
<rect x="969.0" y="639.0" width="1.0" height="1.0" fill="#00007a" />
<rect x="969.0" y="643.0" width="1.0" height="1.0" fill="#00007a" />
<rect x="969.0" y="646.0" width="1.0" height="1.0" fill="#00007a" />
<rect x="969.0" y="649.0" width="1.0" height="1.0" fill="#00007a" />
<rect x="969.0" y="653.0" width="1.0" height="1.0" fill="#00007a" />
<rect x="969.0" y="656.0" width="1.0" height="1.0" fill="#00007a" />
<rect x="969.0" y="659.0" width="1.0" height="1.0" fill="#00007a" />
<rect x="969.0" y="663.0" width="1.0" height="1.0" fill="#00007a" />
<rect x="969.0" y="666.0" width="1.0" height="1.0" fill="#00007a" />
<rect x="969.0" y="669.0" width="1.0" height="1.0" fill="#00007a" />
<rect x="969.0" y="673.0" width="1.0" height="1.0" fill="#00007a" />
<rect x="969.0" y="676.0" width="1.0" height="1.0" fill="#00007a" />
<rect x="969.0" y="679.0" width="1.0" height="1.0" fill="#00007a" />
<rect x="969.0" y="683.0" width="1.0" height="1.0" fill="#00007a" />
<rect x="969.0" y="686.0" width="1.0" height="1.0" fill="#00007a" />
<rect x="969.0" y="689.0" width="1.0" height="1.0" fill="#00007a" />
<rect x="969.0" y="651.0" width="3.0" height="1.0" fill="#00007a" />
<rect x="969.0" y="668.0" width="3.0" height="1.0" fill="#00007a" />
<rect x="969.0" y="684.0" width="3.0" height="1.0" fill="#00007a" />
</g>
<text x="999.0" y="12.3" fill="#00007a" stroke="#00007a" stroke-width="0.3" font-size="11.5" text-anchor="start" textLength="21.5" lengthAdjust="spacingAndGlyphs" >EUR</text>
<text x="1004.8" y="466.3" fill="#00007a" stroke="#00007a" stroke-width="0.3" font-size="11.5" text-anchor="start" textLength="15.7" lengthAdjust="spacingAndGlyphs" >CCI</text>
<text x="995.7" y="551.3" fill="#00007a" stroke="#00007a" stroke-width="0.3" font-size="11.5" text-anchor="start" textLength="24.8" lengthAdjust="spacingAndGlyphs" >MOM</text>
<text x="1004.0" y="610.3" fill="#00007a" stroke="#00007a" stroke-width="0.3" font-size="11.5" text-anchor="start" textLength="16.5" lengthAdjust="spacingAndGlyphs" >RSI</text>
<text x="975.0" y="445.5" fill="#00007a" stroke="#00007a" stroke-width="0.3" font-size="11.5" text-anchor="start" textLength="22.8" lengthAdjust="spacingAndGlyphs" >3940</text>
<text x="975.0" y="422.1" fill="#00007a" stroke="#00007a" stroke-width="0.3" font-size="11.5" text-anchor="start" textLength="22.8" lengthAdjust="spacingAndGlyphs" >3950</text>
<text x="975.0" y="398.6" fill="#00007a" stroke="#00007a" stroke-width="0.3" font-size="11.5" text-anchor="start" textLength="22.8" lengthAdjust="spacingAndGlyphs" >3960</text>
<text x="975.0" y="375.1" fill="#00007a" stroke="#00007a" stroke-width="0.3" font-size="11.5" text-anchor="start" textLength="22.8" lengthAdjust="spacingAndGlyphs" >3970</text>
<text x="975.0" y="351.7" fill="#00007a" stroke="#00007a" stroke-width="0.3" font-size="11.5" text-anchor="start" textLength="22.8" lengthAdjust="spacingAndGlyphs" >3980</text>
<text x="975.0" y="328.2" fill="#00007a" stroke="#00007a" stroke-width="0.3" font-size="11.5" text-anchor="start" textLength="22.8" lengthAdjust="spacingAndGlyphs" >3990</text>
<text x="975.0" y="304.8" fill="#00007a" stroke="#00007a" stroke-width="0.3" font-size="11.5" text-anchor="start" textLength="22.8" lengthAdjust="spacingAndGlyphs" >4000</text>
<text x="975.0" y="281.3" fill="#00007a" stroke="#00007a" stroke-width="0.3" font-size="11.5" text-anchor="start" textLength="22.8" lengthAdjust="spacingAndGlyphs" >4010</text>
<text x="975.0" y="257.9" fill="#00007a" stroke="#00007a" stroke-width="0.3" font-size="11.5" text-anchor="start" textLength="22.8" lengthAdjust="spacingAndGlyphs" >4020</text>
<text x="975.0" y="234.4" fill="#00007a" stroke="#00007a" stroke-width="0.3" font-size="11.5" text-anchor="start" textLength="22.8" lengthAdjust="spacingAndGlyphs" >4030</text>
<text x="975.0" y="211.0" fill="#00007a" stroke="#00007a" stroke-width="0.3" font-size="11.5" text-anchor="start" textLength="22.8" lengthAdjust="spacingAndGlyphs" >4040</text>
<text x="975.0" y="187.5" fill="#00007a" stroke="#00007a" stroke-width="0.3" font-size="11.5" text-anchor="start" textLength="22.8" lengthAdjust="spacingAndGlyphs" >4050</text>
<text x="975.0" y="164.1" fill="#00007a" stroke="#00007a" stroke-width="0.3" font-size="11.5" text-anchor="start" textLength="22.8" lengthAdjust="spacingAndGlyphs" >4060</text>
<text x="975.0" y="140.6" fill="#00007a" stroke="#00007a" stroke-width="0.3" font-size="11.5" text-anchor="start" textLength="22.8" lengthAdjust="spacingAndGlyphs" >4070</text>
<text x="975.0" y="117.2" fill="#00007a" stroke="#00007a" stroke-width="0.3" font-size="11.5" text-anchor="start" textLength="22.8" lengthAdjust="spacingAndGlyphs" >4080</text>
<text x="975.0" y="93.7" fill="#00007a" stroke="#00007a" stroke-width="0.3" font-size="11.5" text-anchor="start" textLength="22.8" lengthAdjust="spacingAndGlyphs" >4090</text>
<text x="975.0" y="70.3" fill="#00007a" stroke="#00007a" stroke-width="0.3" font-size="11.5" text-anchor="start" textLength="22.8" lengthAdjust="spacingAndGlyphs" >4100</text>
<text x="975.0" y="46.8" fill="#00007a" stroke="#00007a" stroke-width="0.3" font-size="11.5" text-anchor="start" textLength="22.8" lengthAdjust="spacingAndGlyphs" >4110</text>
<text x="975.0" y="501.8" fill="#00007a" stroke="#00007a" stroke-width="0.3" font-size="11.5" text-anchor="start" textLength="6.0" lengthAdjust="spacingAndGlyphs" >0</text>
<text x="975.0" y="519.0" fill="#00007a" stroke="#00007a" stroke-width="0.3" font-size="11.5" text-anchor="start" textLength="21.5" lengthAdjust="spacingAndGlyphs" >-100</text>
<text x="975.0" y="582.6" fill="#00007a" stroke="#00007a" stroke-width="0.3" font-size="11.5" text-anchor="start" textLength="6.0" lengthAdjust="spacingAndGlyphs" >0</text>
<text x="975.0" y="655.6" fill="#00007a" stroke="#00007a" stroke-width="0.3" font-size="11.5" text-anchor="start" textLength="12.0" lengthAdjust="spacingAndGlyphs" >50</text>
<text x="975.0" y="672.5" fill="#00007a" stroke="#00007a" stroke-width="0.3" font-size="11.5" text-anchor="start" textLength="12.0" lengthAdjust="spacingAndGlyphs" >40</text>
<text x="975.0" y="688.5" fill="#00007a" stroke="#00007a" stroke-width="0.3" font-size="11.5" text-anchor="start" textLength="12.0" lengthAdjust="spacingAndGlyphs" >30</text>
<g shape-rendering="crispEdges">
<rect x="9.0" y="4.0" width="1.0" height="10.0" fill="#000" />
<rect x="6.5" y="6.5" width="6" height="6" fill="#fff" stroke="#000" stroke-width="1"/>
</g>
<text x="18.6" y="13.7" fill="#000" stroke="#000" stroke-width="0.3" font-size="11.5" text-anchor="start" textLength="368.0" lengthAdjust="spacingAndGlyphs" >846959&#160; FDAX, 1 Stunde - 22.06.2004 17:00:00 - 01.07.2004 15:00:00 - 4103</text>
<text x="4.3" y="28.2" fill="#000" stroke="#000" stroke-width="0.3" font-size="11.5" textLength="11.2" lengthAdjust="spacingAndGlyphs">XX</text>
<text x="18.6" y="28.2" fill="#000" stroke="#000" stroke-width="0.3" font-size="11.5" text-anchor="start" textLength="462.5" lengthAdjust="spacingAndGlyphs" >BBD [Close, 20, 2] Moving Average:4096.05 Upper Band:4118.058862 Lower Band:4074.041138</text>
<text x="4.3" y="42.2" fill="#ff0000" stroke="#ff0000" stroke-width="0.3" font-size="11.5" textLength="11.2" lengthAdjust="spacingAndGlyphs">XX</text>
<text x="18.6" y="42.2" fill="#ff0000" stroke="#ff0000" stroke-width="0.3" font-size="11.5" text-anchor="start" textLength="135.7" lengthAdjust="spacingAndGlyphs" >EMA [Close, 5]:4104.665865</text>
<text x="4.3" y="467.2" fill="#000" stroke="#000" stroke-width="0.3" font-size="11.5" textLength="11.2" lengthAdjust="spacingAndGlyphs">XX</text>
<text x="18.6" y="467.2" fill="#000" stroke="#000" stroke-width="0.3" font-size="11.5" text-anchor="start" textLength="91.0" lengthAdjust="spacingAndGlyphs" >CCI [11]:41.624254</text>
<text x="4.3" y="481.2" fill="#ff0000" stroke="#ff0000" stroke-width="0.3" font-size="11.5" textLength="11.2" lengthAdjust="spacingAndGlyphs">XX</text>
<text x="18.6" y="481.2" fill="#ff0000" stroke="#ff0000" stroke-width="0.3" font-size="11.5" text-anchor="start" textLength="114.0" lengthAdjust="spacingAndGlyphs" >SMA [CCI, 0]:59.242557</text>
<text x="4.3" y="551.5" fill="#000" stroke="#000" stroke-width="0.3" font-size="11.5" textLength="11.2" lengthAdjust="spacingAndGlyphs">XX</text>
<text x="18.6" y="551.5" fill="#000" stroke="#000" stroke-width="0.3" font-size="11.5" text-anchor="start" textLength="88.0" lengthAdjust="spacingAndGlyphs" >MOM [Close, 12]:9</text>
<text x="4.3" y="612.5" fill="#000" stroke="#000" stroke-width="0.3" font-size="11.5" textLength="11.2" lengthAdjust="spacingAndGlyphs">XX</text>
<text x="18.6" y="612.5" fill="#000" stroke="#000" stroke-width="0.3" font-size="11.5" text-anchor="start" textLength="136.5" lengthAdjust="spacingAndGlyphs" >RSI(2) [Close, 14]:56.979137</text>
<text x="4.3" y="627.0" fill="#ff0000" stroke="#ff0000" stroke-width="0.3" font-size="11.5" textLength="11.2" lengthAdjust="spacingAndGlyphs">XX</text>
<text x="18.6" y="627.0" fill="#ff0000" stroke="#ff0000" stroke-width="0.3" font-size="11.5" text-anchor="start" textLength="453.5" lengthAdjust="spacingAndGlyphs" >BBD(2) [RSI, 50, 2] Moving Average:61.020853 Upper Band:76.164221 Lower Band:45.877485</text>
</svg>
</body></html>
